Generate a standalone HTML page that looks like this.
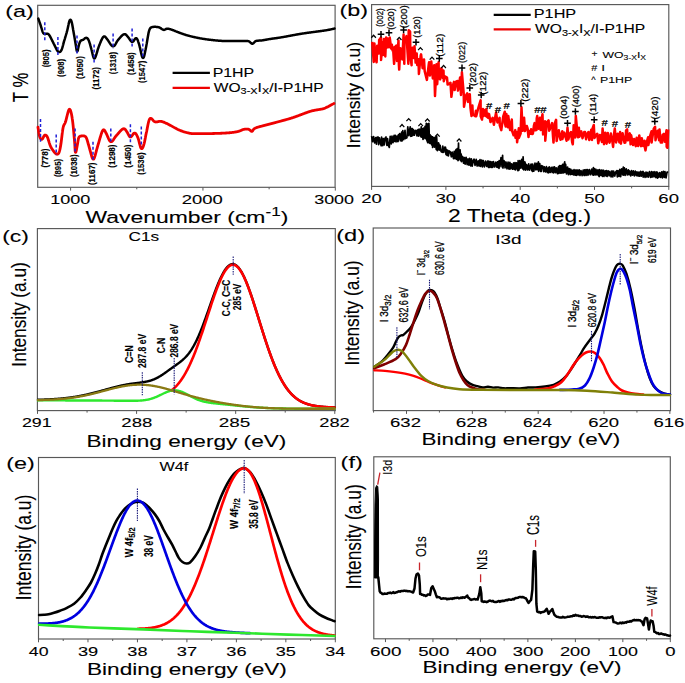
<!DOCTYPE html>
<html><head><meta charset="utf-8"><style>
html,body{margin:0;padding:0;background:#fff;}
svg{display:block;font-family:"Liberation Sans",sans-serif;}
</style></head><body>
<svg width="685" height="683" viewBox="0 0 685 683">
<rect width="685" height="683" fill="#fff"/>
<rect x="37.70" y="5.30" width="297.40" height="182.00" fill="none" stroke="#585858" stroke-width="1.15"/>
<line x1="70.60" y1="187.30" x2="70.60" y2="190.60" stroke="#585858" stroke-width="1.00"/>
<line x1="202.95" y1="187.30" x2="202.95" y2="190.60" stroke="#585858" stroke-width="1.00"/>
<line x1="335.30" y1="187.30" x2="335.30" y2="190.60" stroke="#585858" stroke-width="1.00"/>
<line x1="136.77" y1="187.30" x2="136.77" y2="189.30" stroke="#585858" stroke-width="1.00"/>
<line x1="269.12" y1="187.30" x2="269.12" y2="189.30" stroke="#585858" stroke-width="1.00"/>
<g transform="translate(50.25 204.10) scale(1.3683 1.0000)" font-weight="normal" fill="#000" stroke="#000" stroke-width="0.101"><text xml:space="preserve" x="0.00" y="0.00" font-size="13.20">1000</text></g>
<g transform="translate(181.68 204.10) scale(1.3983 1.0000)" font-weight="normal" fill="#000" stroke="#000" stroke-width="0.100"><text xml:space="preserve" x="0.00" y="0.00" font-size="13.20">2000</text></g>
<g transform="translate(314.18 204.10) scale(1.3566 1.0000)" font-weight="normal" fill="#000" stroke="#000" stroke-width="0.102"><text xml:space="preserve" x="0.00" y="0.00" font-size="13.20">3000</text></g>
<g transform="translate(85.49 223.40) scale(1.3486 1.0000)" font-weight="normal" fill="#000" stroke="#000" stroke-width="0.102"><text xml:space="preserve" x="0.00" y="0.00" font-size="17.00">Wavenumber (cm</text><text xml:space="preserve" x="133.51" y="-7.14" font-size="12.75">-1</text><text xml:space="preserve" x="144.85" y="0.00" font-size="17.00">)</text></g>
<g transform="translate(28.00 102.14) rotate(-90) scale(0.7357 1.0000)" font-weight="normal" fill="#000" stroke="#000" stroke-width="0.138"><text xml:space="preserve" x="0.00" y="0.00" font-size="22.80">T %</text></g>
<g transform="translate(5.30 17.00) scale(1.4246 1.0000)" font-weight="normal" fill="#000" stroke="#000" stroke-width="0.099"><text xml:space="preserve" x="0.00" y="0.00" font-size="16.40">(a)</text></g>
<path d="M38.32 18.64 L38.42 18.92 L38.55 19.30 L38.70 19.73 L38.86 20.19 L39.03 20.66 L39.19 21.13 L39.36 21.60 L39.52 22.07 L39.69 22.55 L39.85 23.02 L40.01 23.49 L40.18 23.96 L40.34 24.44 L40.50 24.91 L40.66 25.39 L40.81 25.86 L40.96 26.34 L41.11 26.81 L41.26 27.29 L41.40 27.77 L41.54 28.25 L41.68 28.73 L41.82 29.21 L41.96 29.69 L42.10 30.17 L42.24 30.65 L42.40 31.13 L42.56 31.60 L42.74 32.06 L42.94 32.51 L43.18 32.94 L43.46 33.31 L43.81 33.61 L44.21 33.82 L44.65 33.94 L45.12 33.96 L45.60 33.91 L46.08 33.83 L46.56 33.74 L47.03 33.70 L47.50 33.74 L47.94 33.87 L48.34 34.10 L48.70 34.41 L49.02 34.77 L49.30 35.17 L49.57 35.59 L49.83 36.02 L50.08 36.46 L50.32 36.89 L50.55 37.33 L50.79 37.78 L51.02 38.22 L51.24 38.67 L51.47 39.11 L51.69 39.56 L51.91 40.01 L52.13 40.46 L52.35 40.91 L52.57 41.36 L52.79 41.80 L53.01 42.25 L53.24 42.70 L53.46 43.15 L53.68 43.60 L53.91 44.04 L54.14 44.49 L54.36 44.93 L54.59 45.38 L54.81 45.82 L55.04 46.27 L55.26 46.72 L55.47 47.17 L55.69 47.62 L55.91 48.07 L56.13 48.52 L56.35 48.97 L56.58 49.41 L56.81 49.85 L57.06 50.29 L57.32 50.71 L57.61 51.11 L57.93 51.47 L58.29 51.78 L58.68 51.99 L59.11 52.09 L59.54 52.06 L59.95 51.90 L60.33 51.64 L60.66 51.30 L60.96 50.91 L61.23 50.50 L61.46 50.06 L61.68 49.61 L61.86 49.15 L62.03 48.68 L62.19 48.21 L62.34 47.73 L62.48 47.25 L62.61 46.77 L62.74 46.28 L62.86 45.80 L62.99 45.32 L63.11 44.83 L63.24 44.35 L63.36 43.86 L63.49 43.38 L63.62 42.90 L63.75 42.41 L63.88 41.93 L64.02 41.45 L64.16 40.97 L64.30 40.49 L64.45 40.01 L64.59 39.53 L64.74 39.06 L64.88 38.58 L65.03 38.10 L65.17 37.62 L65.32 37.14 L65.46 36.66 L65.61 36.19 L65.75 35.71 L65.89 35.23 L66.04 34.75 L66.18 34.27 L66.32 33.79 L66.46 33.31 L66.59 32.83 L66.73 32.35 L66.86 31.86 L66.99 31.38 L67.12 30.90 L67.24 30.41 L67.36 29.93 L67.48 29.44 L67.59 28.95 L67.70 28.47 L67.81 27.98 L67.91 27.49 L68.02 27.00 L68.12 26.51 L68.23 26.02 L68.33 25.53 L68.43 25.04 L68.54 24.56 L68.64 24.07 L68.75 23.58 L68.86 23.09 L68.98 22.60 L69.10 22.12 L69.23 21.64 L69.37 21.16 L69.54 20.70 L69.74 20.29 L69.97 19.96 L70.25 19.78 L70.53 19.78 L70.80 19.97 L71.03 20.30 L71.23 20.72 L71.40 21.18 L71.55 21.65 L71.68 22.13 L71.81 22.62 L71.92 23.10 L72.03 23.59 L72.13 24.08 L72.23 24.57 L72.33 25.06 L72.42 25.55 L72.51 26.05 L72.60 26.54 L72.69 27.03 L72.78 27.52 L72.86 28.01 L72.95 28.51 L73.03 29.00 L73.12 29.49 L73.20 29.99 L73.29 30.48 L73.38 30.97 L73.46 31.46 L73.55 31.96 L73.64 32.45 L73.73 32.94 L73.81 33.43 L73.90 33.92 L73.99 34.42 L74.07 34.91 L74.16 35.40 L74.24 35.89 L74.33 36.39 L74.41 36.88 L74.50 37.37 L74.58 37.87 L74.66 38.36 L74.75 38.85 L74.83 39.35 L74.91 39.84 L74.99 40.33 L75.08 40.82 L75.16 41.32 L75.24 41.81 L75.33 42.30 L75.41 42.80 L75.50 43.29 L75.58 43.78 L75.67 44.27 L75.76 44.77 L75.84 45.26 L75.92 45.75 L76.00 46.25 L76.08 46.74 L76.16 47.23 L76.23 47.73 L76.31 48.22 L76.38 48.72 L76.46 49.21 L76.54 49.70 L76.63 50.19 L76.74 50.65 L76.87 51.04 L77.04 51.30 L77.22 51.38 L77.41 51.25 L77.57 50.95 L77.72 50.54 L77.84 50.08 L77.94 49.59 L78.04 49.10 L78.14 48.61 L78.23 48.12 L78.32 47.63 L78.42 47.14 L78.52 46.65 L78.63 46.16 L78.74 45.68 L78.87 45.19 L79.00 44.71 L79.15 44.23 L79.30 43.75 L79.45 43.28 L79.62 42.81 L79.80 42.35 L80.01 41.89 L80.24 41.46 L80.51 41.06 L80.83 40.71 L81.21 40.44 L81.63 40.23 L82.08 40.08 L82.54 39.94 L83.00 39.77 L83.42 39.55 L83.81 39.27 L84.19 38.95 L84.55 38.61 L84.92 38.30 L85.31 38.05 L85.73 37.88 L86.17 37.84 L86.60 37.91 L87.02 38.10 L87.40 38.37 L87.74 38.71 L88.03 39.10 L88.30 39.52 L88.53 39.96 L88.73 40.41 L88.92 40.87 L89.10 41.34 L89.26 41.81 L89.42 42.29 L89.57 42.76 L89.71 43.24 L89.86 43.72 L90.00 44.20 L90.13 44.68 L90.27 45.16 L90.40 45.65 L90.54 46.13 L90.67 46.61 L90.80 47.09 L90.94 47.57 L91.07 48.05 L91.21 48.54 L91.34 49.02 L91.47 49.50 L91.59 49.99 L91.72 50.47 L91.84 50.95 L91.96 51.44 L92.07 51.93 L92.19 52.41 L92.31 52.90 L92.42 53.39 L92.54 53.87 L92.66 54.36 L92.78 54.84 L92.90 55.33 L93.03 55.81 L93.17 56.29 L93.31 56.77 L93.47 57.24 L93.66 57.68 L93.87 58.06 L94.12 58.34 L94.39 58.44 L94.66 58.36 L94.92 58.10 L95.14 57.73 L95.35 57.30 L95.54 56.85 L95.72 56.38 L95.89 55.91 L96.05 55.43 L96.20 54.96 L96.35 54.48 L96.49 54.00 L96.63 53.52 L96.77 53.04 L96.91 52.56 L97.05 52.08 L97.19 51.60 L97.33 51.12 L97.47 50.64 L97.62 50.16 L97.76 49.69 L97.91 49.21 L98.06 48.73 L98.21 48.26 L98.37 47.78 L98.53 47.31 L98.70 46.84 L98.87 46.37 L99.05 45.90 L99.23 45.43 L99.41 44.97 L99.59 44.50 L99.78 44.04 L99.96 43.57 L100.15 43.11 L100.34 42.65 L100.53 42.18 L100.72 41.72 L100.92 41.26 L101.11 40.80 L101.32 40.35 L101.53 39.89 L101.74 39.44 L101.96 38.99 L102.19 38.55 L102.43 38.11 L102.69 37.69 L102.97 37.28 L103.28 36.92 L103.62 36.63 L104.00 36.45 L104.40 36.41 L104.79 36.52 L105.15 36.76 L105.49 37.09 L105.80 37.46 L106.10 37.86 L106.41 38.25 L106.71 38.65 L107.02 39.04 L107.33 39.43 L107.63 39.83 L107.92 40.24 L108.20 40.65 L108.48 41.07 L108.75 41.49 L109.02 41.91 L109.29 42.33 L109.56 42.75 L109.83 43.17 L110.11 43.58 L110.39 43.99 L110.69 44.40 L110.99 44.80 L111.31 45.18 L111.65 45.54 L112.01 45.86 L112.40 46.11 L112.82 46.28 L113.25 46.32 L113.67 46.23 L114.06 46.02 L114.42 45.72 L114.74 45.36 L115.03 44.96 L115.29 44.54 L115.55 44.11 L115.79 43.67 L116.02 43.23 L116.26 42.79 L116.50 42.36 L116.74 41.92 L117.00 41.49 L117.26 41.07 L117.54 40.65 L117.84 40.25 L118.15 39.86 L118.47 39.47 L118.79 39.09 L119.11 38.71 L119.44 38.34 L119.77 37.96 L120.10 37.58 L120.43 37.21 L120.77 36.84 L121.11 36.48 L121.46 36.12 L121.82 35.77 L122.18 35.43 L122.56 35.10 L122.95 34.80 L123.36 34.53 L123.79 34.32 L124.24 34.18 L124.69 34.15 L125.13 34.22 L125.56 34.40 L125.95 34.67 L126.30 35.00 L126.64 35.36 L126.96 35.74 L127.27 36.13 L127.59 36.51 L127.91 36.90 L128.22 37.29 L128.53 37.68 L128.83 38.08 L129.11 38.49 L129.39 38.90 L129.67 39.32 L129.95 39.74 L130.23 40.15 L130.52 40.55 L130.83 40.94 L131.16 41.29 L131.52 41.59 L131.91 41.79 L132.31 41.86 L132.70 41.78 L133.07 41.56 L133.40 41.24 L133.70 40.87 L133.97 40.45 L134.23 40.03 L134.49 39.60 L134.75 39.19 L135.04 38.80 L135.35 38.47 L135.70 38.26 L136.06 38.19 L136.42 38.29 L136.75 38.53 L137.04 38.88 L137.29 39.29 L137.51 39.73 L137.71 40.19 L137.88 40.66 L138.05 41.13 L138.22 41.60 L138.37 42.08 L138.53 42.55 L138.68 43.03 L138.83 43.50 L138.98 43.98 L139.12 44.46 L139.26 44.94 L139.39 45.42 L139.52 45.91 L139.64 46.39 L139.75 46.88 L139.87 47.36 L139.98 47.85 L140.09 48.34 L140.20 48.83 L140.31 49.32 L140.42 49.80 L140.52 50.29 L140.63 50.78 L140.74 51.27 L140.85 51.76 L140.96 52.24 L141.07 52.73 L141.18 53.22 L141.30 53.71 L141.41 54.19 L141.53 54.68 L141.66 55.16 L141.79 55.64 L141.93 56.12 L142.08 56.59 L142.25 57.05 L142.46 57.45 L142.70 57.75 L142.98 57.90 L143.26 57.85 L143.52 57.63 L143.74 57.28 L143.93 56.85 L144.08 56.39 L144.21 55.91 L144.34 55.42 L144.45 54.94 L144.56 54.45 L144.67 53.96 L144.77 53.47 L144.87 52.98 L144.97 52.49 L145.07 52.00 L145.17 51.51 L145.28 51.02 L145.38 50.53 L145.49 50.04 L145.60 49.56 L145.70 49.07 L145.80 48.58 L145.90 48.09 L146.00 47.60 L146.09 47.11 L146.18 46.61 L146.27 46.12 L146.36 45.63 L146.45 45.14 L146.53 44.65 L146.62 44.15 L146.70 43.66 L146.79 43.17 L146.87 42.67 L146.95 42.18 L147.03 41.69 L147.11 41.19 L147.20 40.70 L147.28 40.21 L147.36 39.71 L147.44 39.22 L147.52 38.73 L147.61 38.23 L147.69 37.74 L147.78 37.25 L147.86 36.76 L147.95 36.26 L148.04 35.77 L148.13 35.28 L148.22 34.79 L148.31 34.30 L148.40 33.81 L148.49 33.31 L148.59 32.82 L148.69 32.33 L148.81 31.85 L148.94 31.37 L149.08 30.89 L149.24 30.41 L149.40 29.94 L149.57 29.48 L149.77 29.02 L149.99 28.59 L150.26 28.19 L150.59 27.84 L150.97 27.55 L151.39 27.32 L151.85 27.16 L152.33 27.04 L152.82 26.95 L153.31 26.90 L153.81 26.86 L154.31 26.84 L154.81 26.83 L155.31 26.84 L155.80 26.86 L156.30 26.89 L156.80 26.93 L157.30 26.99 L157.79 27.06 L158.28 27.16 L158.76 27.28 L159.23 27.44 L159.68 27.63 L160.13 27.85 L160.56 28.10 L160.98 28.37 L161.39 28.66 L161.80 28.94 L162.21 29.22 L162.63 29.48 L163.06 29.69 L163.51 29.84 L163.96 29.89 L164.41 29.84 L164.84 29.68 L165.26 29.45 L165.67 29.20 L166.09 28.97 L166.54 28.79 L167.00 28.68 L167.49 28.65 L167.97 28.67 L168.46 28.74 L168.95 28.85 L169.43 28.98 L169.91 29.12 L170.38 29.27 L170.86 29.43 L171.33 29.59 L171.80 29.75 L172.27 29.92 L172.74 30.10 L173.21 30.27 L173.68 30.45 L174.14 30.63 L174.61 30.82 L175.07 31.00 L175.54 31.18 L176.00 31.37 L176.47 31.55 L176.93 31.73 L177.40 31.92 L177.86 32.10 L178.33 32.28 L178.80 32.46 L179.26 32.64 L179.73 32.82 L180.20 33.00 L180.66 33.17 L181.13 33.35 L181.60 33.52 L182.07 33.69 L182.54 33.86 L183.02 34.02 L183.49 34.18 L183.96 34.34 L184.44 34.50 L184.91 34.65 L185.39 34.80 L185.87 34.94 L186.35 35.09 L186.83 35.22 L187.31 35.36 L187.79 35.50 L188.27 35.63 L188.76 35.76 L189.24 35.89 L189.72 36.02 L190.21 36.14 L190.69 36.27 L191.18 36.39 L191.66 36.51 L192.15 36.63 L192.63 36.74 L193.12 36.86 L193.61 36.97 L194.10 37.08 L194.58 37.19 L195.07 37.30 L195.56 37.40 L196.05 37.51 L196.54 37.61 L197.03 37.71 L197.52 37.81 L198.01 37.90 L198.50 38.00 L198.99 38.09 L199.48 38.18 L199.97 38.28 L200.47 38.36 L200.96 38.45 L201.45 38.54 L201.94 38.62 L202.44 38.70 L202.93 38.78 L203.42 38.86 L203.92 38.94 L204.41 39.02 L204.91 39.09 L205.40 39.16 L205.90 39.24 L206.39 39.31 L206.89 39.37 L207.38 39.44 L207.88 39.51 L208.37 39.57 L208.87 39.64 L209.37 39.70 L209.86 39.76 L210.36 39.82 L210.85 39.88 L211.35 39.94 L211.85 40.00 L212.34 40.05 L212.84 40.11 L213.34 40.16 L213.84 40.22 L214.33 40.27 L214.83 40.32 L215.33 40.37 L215.83 40.42 L216.32 40.46 L216.82 40.51 L217.32 40.55 L217.82 40.60 L218.32 40.64 L218.81 40.68 L219.31 40.72 L219.81 40.75 L220.31 40.79 L220.81 40.82 L221.31 40.85 L221.81 40.88 L222.31 40.91 L222.81 40.93 L223.31 40.95 L223.81 40.97 L224.30 40.98 L224.80 41.00 L225.30 41.01 L225.80 41.02 L226.30 41.02 L226.80 41.03 L227.30 41.03 L227.80 41.03 L228.30 41.04 L228.80 41.03 L229.30 41.03 L229.80 41.03 L230.30 41.03 L230.80 41.02 L231.30 41.02 L231.80 41.02 L232.30 41.01 L232.80 41.01 L233.30 41.01 L233.80 41.00 L234.30 41.00 L234.80 41.00 L235.30 41.00 L235.80 41.00 L236.30 41.00 L236.80 41.00 L237.30 41.00 L237.80 41.00 L238.30 41.00 L238.80 41.00 L239.30 41.00 L239.80 41.00 L240.30 40.99 L240.80 40.99 L241.30 40.99 L241.80 40.98 L242.30 40.98 L242.80 40.97 L243.30 40.97 L243.80 40.97 L244.30 40.97 L244.80 40.97 L245.30 40.97 L245.80 40.97 L246.30 40.98 L246.80 40.99 L247.30 41.01 L247.79 41.05 L248.27 41.13 L248.72 41.26 L249.15 41.46 L249.55 41.72 L249.92 42.04 L250.27 42.38 L250.62 42.73 L250.98 43.07 L251.35 43.37 L251.74 43.58 L252.15 43.68 L252.57 43.65 L252.97 43.48 L253.36 43.22 L253.71 42.89 L254.05 42.54 L254.39 42.17 L254.74 41.82 L255.11 41.50 L255.51 41.23 L255.95 41.02 L256.41 40.86 L256.88 40.76 L257.38 40.70 L257.87 40.65 L258.37 40.63 L258.87 40.61 L259.37 40.59 L259.87 40.56 L260.37 40.54 L260.87 40.50 L261.36 40.46 L261.86 40.40 L262.36 40.34 L262.85 40.27 L263.34 40.19 L263.84 40.10 L264.33 40.02 L264.82 39.93 L265.31 39.84 L265.80 39.75 L266.30 39.65 L266.79 39.56 L267.28 39.47 L267.77 39.38 L268.26 39.29 L268.76 39.21 L269.25 39.13 L269.74 39.05 L270.24 38.97 L270.73 38.89 L271.23 38.82 L271.72 38.75 L272.22 38.68 L272.71 38.61 L273.21 38.54 L273.70 38.48 L274.20 38.41 L274.69 38.34 L275.19 38.28 L275.68 38.21 L276.18 38.14 L276.67 38.07 L277.17 38.00 L277.66 37.93 L278.16 37.86 L278.65 37.78 L279.15 37.71 L279.64 37.63 L280.14 37.55 L280.63 37.47 L281.12 37.39 L281.62 37.31 L282.11 37.23 L282.60 37.14 L283.09 37.06 L283.59 36.97 L284.08 36.88 L284.57 36.79 L285.06 36.70 L285.55 36.61 L286.05 36.52 L286.54 36.43 L287.03 36.34 L287.52 36.25 L288.01 36.15 L288.50 36.06 L288.99 35.97 L289.49 35.88 L289.98 35.78 L290.47 35.69 L290.96 35.60 L291.45 35.50 L291.94 35.41 L292.43 35.32 L292.93 35.23 L293.42 35.14 L293.91 35.05 L294.40 34.95 L294.89 34.86 L295.38 34.77 L295.88 34.68 L296.37 34.60 L296.86 34.51 L297.35 34.42 L297.84 34.33 L298.34 34.25 L298.83 34.16 L299.32 34.08 L299.82 33.99 L300.31 33.91 L300.80 33.83 L301.30 33.75 L301.79 33.67 L302.28 33.59 L302.78 33.51 L303.27 33.44 L303.77 33.36 L304.26 33.29 L304.75 33.21 L305.25 33.14 L305.74 33.07 L306.24 33.00 L306.73 32.93 L307.23 32.86 L307.72 32.79 L308.22 32.72 L308.72 32.66 L309.21 32.59 L309.71 32.52 L310.20 32.46 L310.70 32.39 L311.19 32.32 L311.69 32.26 L312.18 32.19 L312.68 32.13 L313.18 32.06 L313.67 32.00 L314.17 31.93 L314.66 31.87 L315.16 31.81 L315.66 31.74 L316.15 31.68 L316.65 31.61 L317.14 31.55 L317.64 31.48 L318.13 31.42 L318.63 31.35 L319.13 31.28 L319.62 31.22 L320.12 31.15 L320.61 31.09 L321.11 31.02 L321.60 30.95 L322.10 30.88 L322.59 30.81 L323.09 30.74 L323.58 30.67 L324.08 30.59 L324.57 30.52 L325.07 30.44 L325.56 30.36 L326.05 30.28 L326.55 30.19 L327.04 30.11 L327.53 30.02 L328.02 29.93 L328.51 29.84 L329.00 29.75 L329.50 29.65 L329.99 29.55 L330.48 29.46 L330.97 29.35 L331.45 29.25 L331.94 29.14 L332.43 29.04 L332.92 28.93 L333.39 28.83 L333.84 28.73 L334.23 28.64 L334.53 28.58" fill="none" stroke="#000" stroke-width="2.50" stroke-linejoin="round" stroke-linecap="round"/>
<path d="M37.95 127.05 L38.00 127.35 L38.06 127.75 L38.13 128.20 L38.20 128.68 L38.27 129.17 L38.35 129.67 L38.42 130.16 L38.50 130.65 L38.58 131.15 L38.65 131.64 L38.73 132.14 L38.82 132.63 L38.90 133.12 L38.99 133.61 L39.08 134.11 L39.18 134.59 L39.29 135.08 L39.41 135.57 L39.54 136.05 L39.69 136.53 L39.85 137.00 L40.04 137.46 L40.24 137.91 L40.47 138.35 L40.74 138.75 L41.04 139.08 L41.37 139.30 L41.72 139.36 L42.06 139.25 L42.38 138.99 L42.65 138.63 L42.89 138.21 L43.10 137.77 L43.31 137.32 L43.53 136.86 L43.75 136.42 L44.00 136.00 L44.29 135.62 L44.61 135.31 L44.98 135.12 L45.38 135.06 L45.78 135.16 L46.15 135.38 L46.49 135.70 L46.79 136.08 L47.05 136.49 L47.28 136.93 L47.49 137.39 L47.67 137.85 L47.85 138.32 L48.01 138.79 L48.17 139.26 L48.32 139.74 L48.47 140.22 L48.62 140.69 L48.77 141.17 L48.92 141.65 L49.07 142.13 L49.22 142.60 L49.37 143.08 L49.53 143.55 L49.69 144.03 L49.86 144.50 L50.03 144.97 L50.21 145.43 L50.40 145.89 L50.61 146.35 L50.82 146.80 L51.05 147.25 L51.28 147.69 L51.53 148.12 L51.79 148.55 L52.05 148.97 L52.33 149.39 L52.61 149.80 L52.90 150.21 L53.19 150.62 L53.48 151.02 L53.78 151.42 L54.08 151.82 L54.39 152.22 L54.70 152.60 L55.03 152.98 L55.38 153.33 L55.74 153.66 L56.14 153.93 L56.56 154.13 L56.99 154.23 L57.43 154.20 L57.83 154.05 L58.19 153.78 L58.50 153.43 L58.76 153.02 L58.98 152.58 L59.17 152.13 L59.34 151.66 L59.49 151.18 L59.63 150.70 L59.75 150.22 L59.87 149.73 L59.98 149.24 L60.08 148.75 L60.18 148.26 L60.27 147.77 L60.37 147.28 L60.46 146.79 L60.54 146.30 L60.63 145.80 L60.71 145.31 L60.79 144.82 L60.87 144.32 L60.94 143.83 L61.02 143.34 L61.09 142.84 L61.15 142.34 L61.22 141.85 L61.28 141.35 L61.34 140.86 L61.41 140.36 L61.47 139.86 L61.53 139.37 L61.59 138.87 L61.64 138.38 L61.70 137.88 L61.76 137.38 L61.82 136.89 L61.88 136.39 L61.94 135.89 L62.00 135.40 L62.06 134.90 L62.12 134.40 L62.18 133.91 L62.24 133.41 L62.30 132.91 L62.37 132.42 L62.43 131.92 L62.50 131.43 L62.56 130.93 L62.63 130.44 L62.71 129.94 L62.78 129.45 L62.86 128.96 L62.95 128.46 L63.04 127.97 L63.15 127.48 L63.26 127.00 L63.39 126.51 L63.54 126.04 L63.71 125.57 L63.91 125.12 L64.14 124.68 L64.38 124.24 L64.62 123.81 L64.86 123.37 L65.07 122.92 L65.27 122.46 L65.44 121.99 L65.60 121.52 L65.74 121.04 L65.88 120.56 L66.01 120.08 L66.14 119.59 L66.27 119.11 L66.39 118.63 L66.51 118.14 L66.63 117.66 L66.75 117.17 L66.87 116.69 L66.99 116.20 L67.11 115.71 L67.23 115.23 L67.35 114.74 L67.47 114.26 L67.60 113.77 L67.72 113.29 L67.85 112.81 L67.98 112.32 L68.12 111.84 L68.26 111.36 L68.41 110.89 L68.58 110.43 L68.77 109.99 L69.00 109.61 L69.27 109.35 L69.55 109.25 L69.83 109.35 L70.08 109.61 L70.30 109.99 L70.48 110.43 L70.64 110.90 L70.78 111.38 L70.92 111.86 L71.05 112.34 L71.17 112.82 L71.29 113.31 L71.40 113.80 L71.50 114.29 L71.60 114.78 L71.70 115.27 L71.79 115.76 L71.87 116.25 L71.96 116.74 L72.04 117.24 L72.12 117.73 L72.19 118.23 L72.27 118.72 L72.34 119.21 L72.41 119.71 L72.48 120.21 L72.54 120.70 L72.61 121.20 L72.67 121.69 L72.73 122.19 L72.79 122.69 L72.85 123.18 L72.90 123.68 L72.96 124.18 L73.01 124.67 L73.07 125.17 L73.12 125.67 L73.17 126.16 L73.22 126.66 L73.27 127.16 L73.32 127.66 L73.37 128.16 L73.41 128.65 L73.46 129.15 L73.51 129.65 L73.55 130.15 L73.60 130.64 L73.65 131.14 L73.69 131.64 L73.74 132.14 L73.78 132.64 L73.83 133.13 L73.87 133.63 L73.91 134.13 L73.96 134.63 L74.00 135.13 L74.05 135.62 L74.09 136.12 L74.13 136.62 L74.18 137.12 L74.22 137.62 L74.27 138.11 L74.31 138.61 L74.35 139.11 L74.40 139.61 L74.44 140.11 L74.48 140.60 L74.53 141.10 L74.57 141.60 L74.61 142.10 L74.66 142.60 L74.69 143.10 L74.73 143.59 L74.77 144.09 L74.80 144.59 L74.83 145.09 L74.86 145.59 L74.89 146.09 L74.92 146.59 L74.94 147.09 L74.97 147.59 L75.00 148.09 L75.02 148.59 L75.05 149.09 L75.08 149.58 L75.11 150.08 L75.15 150.58 L75.19 151.07 L75.26 151.53 L75.35 151.93 L75.47 152.20 L75.62 152.28 L75.79 152.15 L75.94 151.84 L76.08 151.43 L76.20 150.97 L76.31 150.48 L76.41 150.00 L76.51 149.50 L76.60 149.01 L76.69 148.52 L76.79 148.03 L76.88 147.54 L76.97 147.05 L77.06 146.56 L77.15 146.06 L77.25 145.57 L77.34 145.08 L77.44 144.59 L77.53 144.10 L77.62 143.61 L77.70 143.12 L77.78 142.62 L77.85 142.13 L77.93 141.63 L78.00 141.14 L78.08 140.64 L78.16 140.15 L78.24 139.66 L78.34 139.17 L78.45 138.68 L78.57 138.20 L78.73 137.74 L78.94 137.30 L79.20 136.91 L79.53 136.58 L79.92 136.34 L80.36 136.18 L80.83 136.08 L81.32 136.01 L81.81 135.96 L82.30 135.91 L82.80 135.88 L83.29 135.87 L83.78 135.91 L84.26 136.00 L84.72 136.15 L85.14 136.37 L85.52 136.66 L85.84 137.01 L86.11 137.41 L86.34 137.84 L86.54 138.30 L86.72 138.76 L86.89 139.23 L87.05 139.71 L87.20 140.18 L87.34 140.66 L87.48 141.14 L87.62 141.62 L87.76 142.10 L87.89 142.58 L88.03 143.07 L88.16 143.55 L88.29 144.03 L88.43 144.51 L88.56 144.99 L88.69 145.47 L88.83 145.96 L88.97 146.44 L89.10 146.92 L89.24 147.40 L89.38 147.88 L89.52 148.36 L89.65 148.84 L89.79 149.32 L89.92 149.80 L90.05 150.29 L90.18 150.77 L90.31 151.25 L90.44 151.74 L90.57 152.22 L90.70 152.70 L90.83 153.18 L90.96 153.67 L91.10 154.15 L91.23 154.63 L91.37 155.11 L91.51 155.59 L91.65 156.07 L91.80 156.55 L91.95 157.02 L92.11 157.49 L92.29 157.96 L92.49 158.40 L92.72 158.79 L92.98 159.08 L93.26 159.21 L93.54 159.15 L93.79 158.91 L94.01 158.55 L94.21 158.12 L94.39 157.66 L94.56 157.19 L94.72 156.72 L94.88 156.25 L95.03 155.77 L95.17 155.29 L95.31 154.81 L95.45 154.33 L95.58 153.85 L95.71 153.37 L95.84 152.89 L95.97 152.40 L96.10 151.92 L96.23 151.43 L96.35 150.95 L96.48 150.47 L96.61 149.98 L96.74 149.50 L96.86 149.02 L96.99 148.53 L97.13 148.05 L97.26 147.57 L97.39 147.09 L97.53 146.61 L97.67 146.13 L97.81 145.65 L97.95 145.17 L98.09 144.69 L98.24 144.21 L98.38 143.73 L98.52 143.25 L98.66 142.77 L98.80 142.29 L98.94 141.81 L99.08 141.33 L99.21 140.85 L99.35 140.37 L99.49 139.89 L99.63 139.41 L99.77 138.93 L99.91 138.45 L100.05 137.97 L100.19 137.49 L100.34 137.01 L100.48 136.53 L100.63 136.05 L100.77 135.57 L100.92 135.10 L101.07 134.62 L101.23 134.15 L101.39 133.67 L101.55 133.20 L101.72 132.73 L101.89 132.26 L102.07 131.79 L102.27 131.34 L102.48 130.89 L102.73 130.48 L103.00 130.12 L103.32 129.87 L103.66 129.77 L104.00 129.84 L104.32 130.08 L104.60 130.42 L104.85 130.83 L105.08 131.26 L105.31 131.71 L105.54 132.15 L105.77 132.59 L106.01 133.03 L106.25 133.47 L106.47 133.92 L106.69 134.37 L106.90 134.82 L107.10 135.28 L107.30 135.74 L107.49 136.20 L107.69 136.66 L107.88 137.12 L108.07 137.58 L108.27 138.04 L108.47 138.50 L108.68 138.95 L108.89 139.40 L109.12 139.85 L109.36 140.28 L109.63 140.70 L109.92 141.08 L110.26 141.40 L110.63 141.63 L111.03 141.73 L111.45 141.68 L111.85 141.51 L112.22 141.24 L112.56 140.89 L112.87 140.51 L113.16 140.11 L113.44 139.70 L113.71 139.28 L113.98 138.86 L114.25 138.43 L114.52 138.01 L114.80 137.60 L115.08 137.19 L115.38 136.79 L115.69 136.40 L116.01 136.01 L116.34 135.63 L116.66 135.26 L116.99 134.88 L117.32 134.50 L117.65 134.13 L117.97 133.75 L118.30 133.37 L118.63 132.99 L118.96 132.61 L119.29 132.24 L119.62 131.86 L119.95 131.49 L120.29 131.13 L120.64 130.77 L120.99 130.41 L121.35 130.07 L121.72 129.73 L122.11 129.42 L122.51 129.15 L122.94 128.92 L123.38 128.77 L123.82 128.73 L124.26 128.80 L124.67 128.99 L125.04 129.27 L125.38 129.61 L125.68 130.00 L125.96 130.41 L126.23 130.83 L126.50 131.25 L126.77 131.67 L127.04 132.09 L127.31 132.51 L127.56 132.94 L127.80 133.38 L128.03 133.82 L128.25 134.27 L128.47 134.72 L128.70 135.16 L128.93 135.60 L129.19 136.02 L129.48 136.40 L129.80 136.70 L130.17 136.89 L130.55 136.93 L130.93 136.81 L131.29 136.57 L131.62 136.23 L131.92 135.85 L132.21 135.44 L132.48 135.03 L132.76 134.61 L133.04 134.20 L133.34 133.81 L133.67 133.47 L134.03 133.20 L134.41 133.06 L134.82 133.05 L135.21 133.20 L135.57 133.46 L135.89 133.80 L136.18 134.19 L136.44 134.62 L136.68 135.05 L136.90 135.50 L137.12 135.95 L137.32 136.41 L137.52 136.87 L137.71 137.33 L137.90 137.79 L138.08 138.26 L138.24 138.73 L138.40 139.20 L138.55 139.68 L138.69 140.16 L138.82 140.64 L138.95 141.12 L139.08 141.61 L139.20 142.09 L139.32 142.58 L139.44 143.06 L139.56 143.55 L139.68 144.03 L139.81 144.52 L139.93 145.00 L140.06 145.49 L140.19 145.97 L140.33 146.45 L140.47 146.93 L140.64 147.39 L140.83 147.83 L141.06 148.22 L141.33 148.50 L141.64 148.63 L141.96 148.57 L142.26 148.35 L142.53 148.00 L142.75 147.59 L142.95 147.14 L143.13 146.67 L143.30 146.20 L143.45 145.73 L143.61 145.25 L143.76 144.77 L143.90 144.30 L144.04 143.82 L144.18 143.34 L144.30 142.85 L144.42 142.37 L144.54 141.88 L144.64 141.39 L144.74 140.90 L144.84 140.41 L144.94 139.92 L145.03 139.43 L145.12 138.94 L145.21 138.45 L145.31 137.96 L145.40 137.46 L145.49 136.97 L145.58 136.48 L145.68 135.99 L145.77 135.50 L145.87 135.01 L145.97 134.52 L146.08 134.03 L146.18 133.54 L146.29 133.05 L146.39 132.56 L146.50 132.08 L146.60 131.59 L146.70 131.10 L146.80 130.61 L146.89 130.11 L146.99 129.62 L147.08 129.13 L147.17 128.64 L147.27 128.15 L147.36 127.66 L147.46 127.17 L147.55 126.68 L147.65 126.19 L147.75 125.70 L147.84 125.21 L147.95 124.72 L148.05 124.23 L148.16 123.74 L148.26 123.25 L148.38 122.76 L148.50 122.28 L148.62 121.79 L148.75 121.31 L148.89 120.83 L149.05 120.36 L149.22 119.89 L149.42 119.44 L149.65 119.03 L149.94 118.68 L150.27 118.44 L150.65 118.34 L151.05 118.40 L151.44 118.58 L151.81 118.87 L152.15 119.21 L152.48 119.58 L152.80 119.96 L153.13 120.34 L153.46 120.71 L153.80 121.06 L154.18 121.38 L154.58 121.64 L155.02 121.83 L155.48 121.94 L155.96 121.98 L156.44 121.96 L156.93 121.89 L157.42 121.78 L157.90 121.67 L158.39 121.55 L158.88 121.45 L159.37 121.37 L159.86 121.33 L160.36 121.33 L160.85 121.36 L161.34 121.43 L161.82 121.54 L162.31 121.67 L162.78 121.81 L163.25 121.98 L163.72 122.15 L164.19 122.34 L164.65 122.53 L165.10 122.74 L165.56 122.94 L166.01 123.15 L166.46 123.37 L166.91 123.58 L167.37 123.80 L167.81 124.02 L168.26 124.24 L168.71 124.46 L169.15 124.69 L169.60 124.92 L170.04 125.16 L170.48 125.40 L170.91 125.64 L171.35 125.89 L171.79 126.13 L172.22 126.38 L172.65 126.63 L173.09 126.88 L173.52 127.12 L173.96 127.37 L174.39 127.61 L174.83 127.86 L175.27 128.10 L175.71 128.34 L176.15 128.57 L176.59 128.81 L177.04 129.03 L177.48 129.26 L177.94 129.47 L178.39 129.68 L178.84 129.89 L179.30 130.09 L179.76 130.28 L180.23 130.47 L180.69 130.66 L181.15 130.84 L181.62 131.02 L182.09 131.19 L182.56 131.36 L183.04 131.52 L183.51 131.68 L183.99 131.83 L184.47 131.97 L184.95 132.11 L185.43 132.25 L185.91 132.37 L186.39 132.50 L186.88 132.62 L187.36 132.74 L187.85 132.86 L188.34 132.97 L188.82 133.08 L189.31 133.19 L189.80 133.29 L190.29 133.37 L190.79 133.44 L191.29 133.50 L191.78 133.54 L192.28 133.58 L192.78 133.61 L193.28 133.63 L193.78 133.65 L194.28 133.66 L194.78 133.68 L195.28 133.69 L195.78 133.69 L196.28 133.70 L196.78 133.71 L197.28 133.71 L197.78 133.71 L198.28 133.71 L198.78 133.71 L199.28 133.71 L199.78 133.71 L200.28 133.71 L200.78 133.71 L201.28 133.70 L201.78 133.70 L202.28 133.69 L202.78 133.69 L203.28 133.68 L203.78 133.68 L204.28 133.67 L204.78 133.67 L205.28 133.66 L205.78 133.65 L206.28 133.64 L206.78 133.64 L207.28 133.63 L207.78 133.62 L208.28 133.61 L208.78 133.60 L209.28 133.59 L209.78 133.58 L210.28 133.57 L210.78 133.56 L211.28 133.55 L211.78 133.54 L212.28 133.53 L212.78 133.51 L213.28 133.50 L213.78 133.49 L214.28 133.48 L214.78 133.46 L215.28 133.45 L215.78 133.44 L216.28 133.42 L216.78 133.41 L217.28 133.39 L217.77 133.38 L218.27 133.36 L218.77 133.34 L219.27 133.33 L219.77 133.31 L220.27 133.29 L220.77 133.27 L221.27 133.25 L221.77 133.23 L222.27 133.21 L222.77 133.18 L223.27 133.16 L223.77 133.14 L224.27 133.11 L224.77 133.08 L225.27 133.05 L225.77 133.02 L226.27 132.99 L226.76 132.96 L227.26 132.92 L227.76 132.89 L228.26 132.85 L228.76 132.81 L229.26 132.77 L229.76 132.73 L230.25 132.68 L230.75 132.63 L231.25 132.58 L231.75 132.53 L232.24 132.47 L232.74 132.41 L233.23 132.35 L233.73 132.28 L234.23 132.21 L234.72 132.14 L235.21 132.06 L235.71 131.98 L236.20 131.90 L236.69 131.80 L237.18 131.70 L237.67 131.59 L238.15 131.47 L238.63 131.33 L239.10 131.17 L239.57 131.01 L240.04 130.83 L240.50 130.63 L240.96 130.44 L241.42 130.24 L241.88 130.04 L242.34 129.85 L242.80 129.67 L243.28 129.51 L243.76 129.38 L244.24 129.27 L244.73 129.18 L245.23 129.11 L245.72 129.06 L246.22 129.03 L246.72 129.03 L247.22 129.05 L247.71 129.09 L248.20 129.18 L248.67 129.31 L249.12 129.49 L249.54 129.73 L249.92 130.03 L250.28 130.36 L250.63 130.71 L250.98 131.03 L251.34 131.28 L251.71 131.41 L252.05 131.39 L252.36 131.19 L252.61 130.87 L252.84 130.47 L253.06 130.05 L253.32 129.64 L253.63 129.26 L253.98 128.92 L254.37 128.62 L254.79 128.37 L255.23 128.14 L255.68 127.94 L256.15 127.76 L256.62 127.59 L257.09 127.43 L257.57 127.28 L258.05 127.13 L258.52 126.99 L259.00 126.85 L259.49 126.71 L259.97 126.58 L260.45 126.45 L260.93 126.32 L261.42 126.20 L261.90 126.07 L262.39 125.95 L262.87 125.82 L263.36 125.70 L263.84 125.58 L264.33 125.45 L264.81 125.33 L265.29 125.21 L265.78 125.09 L266.26 124.97 L266.75 124.84 L267.23 124.72 L267.72 124.60 L268.20 124.47 L268.69 124.35 L269.17 124.22 L269.65 124.10 L270.14 123.97 L270.62 123.84 L271.10 123.71 L271.59 123.58 L272.07 123.44 L272.55 123.31 L273.03 123.18 L273.52 123.05 L274.00 122.92 L274.48 122.79 L274.96 122.66 L275.45 122.53 L275.93 122.40 L276.41 122.27 L276.90 122.14 L277.38 122.01 L277.86 121.89 L278.35 121.76 L278.83 121.63 L279.31 121.50 L279.79 121.37 L280.28 121.24 L280.76 121.11 L281.24 120.98 L281.73 120.85 L282.21 120.72 L282.69 120.59 L283.17 120.46 L283.66 120.33 L284.14 120.19 L284.62 120.06 L285.10 119.93 L285.58 119.79 L286.06 119.66 L286.55 119.52 L287.03 119.38 L287.51 119.25 L287.99 119.11 L288.47 118.97 L288.95 118.83 L289.43 118.68 L289.91 118.54 L290.38 118.40 L290.86 118.25 L291.34 118.10 L291.82 117.95 L292.29 117.80 L292.77 117.65 L293.24 117.49 L293.72 117.33 L294.19 117.17 L294.66 117.01 L295.14 116.84 L295.61 116.68 L296.08 116.51 L296.55 116.34 L297.02 116.17 L297.49 115.99 L297.96 115.82 L298.42 115.64 L298.89 115.47 L299.36 115.29 L299.83 115.11 L300.30 114.94 L300.76 114.76 L301.23 114.58 L301.70 114.40 L302.16 114.22 L302.63 114.05 L303.10 113.87 L303.57 113.69 L304.03 113.51 L304.50 113.34 L304.97 113.16 L305.44 112.99 L305.91 112.82 L306.38 112.65 L306.85 112.48 L307.32 112.31 L307.79 112.15 L308.27 111.99 L308.74 111.83 L309.22 111.68 L309.69 111.53 L310.17 111.38 L310.65 111.24 L311.13 111.10 L311.61 110.97 L312.10 110.85 L312.58 110.73 L313.07 110.62 L313.56 110.51 L314.05 110.40 L314.54 110.30 L315.03 110.20 L315.52 110.11 L316.01 110.02 L316.50 109.94 L317.00 109.86 L317.49 109.78 L317.98 109.70 L318.48 109.62 L318.97 109.54 L319.47 109.47 L319.96 109.39 L320.45 109.31 L320.95 109.22 L321.44 109.13 L321.93 109.03 L322.42 108.93 L322.90 108.81 L323.38 108.68 L323.86 108.54 L324.34 108.38 L324.80 108.21 L325.26 108.01 L325.71 107.79 L326.16 107.57 L326.60 107.35 L327.05 107.13 L327.50 106.90 L327.94 106.67 L328.39 106.45 L328.83 106.22 L329.28 105.98 L329.72 105.75 L330.16 105.52 L330.60 105.28 L331.04 105.05 L331.48 104.81 L331.93 104.58 L332.37 104.34 L332.80 104.11 L333.22 103.88 L333.60 103.68 L333.91 103.51" fill="none" stroke="#ee0000" stroke-width="2.80" stroke-linejoin="round" stroke-linecap="round"/>
<line x1="44.80" y1="22.30" x2="44.80" y2="41.10" stroke="#2020d8" stroke-width="1.50" stroke-dasharray="3 2"/>
<line x1="57.90" y1="37.10" x2="57.90" y2="56.40" stroke="#2020d8" stroke-width="1.50" stroke-dasharray="3 2"/>
<line x1="77.00" y1="35.40" x2="77.00" y2="53.80" stroke="#2020d8" stroke-width="1.50" stroke-dasharray="3 2"/>
<line x1="94.10" y1="44.40" x2="94.10" y2="63.40" stroke="#2020d8" stroke-width="1.50" stroke-dasharray="3 2"/>
<line x1="113.10" y1="33.50" x2="113.10" y2="48.80" stroke="#2020d8" stroke-width="1.50" stroke-dasharray="3 2"/>
<line x1="132.10" y1="28.40" x2="132.10" y2="48.10" stroke="#2020d8" stroke-width="1.50" stroke-dasharray="3 2"/>
<line x1="142.80" y1="38.60" x2="142.80" y2="58.30" stroke="#2020d8" stroke-width="1.50" stroke-dasharray="3 2"/>
<line x1="40.50" y1="119.10" x2="40.50" y2="141.70" stroke="#2020d8" stroke-width="1.50" stroke-dasharray="3 2"/>
<line x1="56.20" y1="134.40" x2="56.20" y2="154.90" stroke="#2020d8" stroke-width="1.50" stroke-dasharray="3 2"/>
<line x1="75.10" y1="128.60" x2="75.10" y2="153.40" stroke="#2020d8" stroke-width="1.50" stroke-dasharray="3 2"/>
<line x1="93.00" y1="141.70" x2="93.00" y2="160.00" stroke="#2020d8" stroke-width="1.50" stroke-dasharray="3 2"/>
<line x1="110.80" y1="128.60" x2="110.80" y2="143.20" stroke="#2020d8" stroke-width="1.50" stroke-dasharray="3 2"/>
<line x1="130.40" y1="124.20" x2="130.40" y2="143.20" stroke="#2020d8" stroke-width="1.50" stroke-dasharray="3 2"/>
<line x1="141.30" y1="126.40" x2="141.30" y2="146.80" stroke="#2020d8" stroke-width="1.50" stroke-dasharray="3 2"/>
<g transform="translate(48.84 67.28) rotate(-90) scale(0.7818 1.0000)" font-weight="bold" fill="#000" stroke="#000" stroke-width="0.150"><text xml:space="preserve" x="0.00" y="0.00" font-size="9.79">(805)</text></g>
<g transform="translate(63.85 76.88) rotate(-90) scale(0.8223 1.0000)" font-weight="bold" fill="#000" stroke="#000" stroke-width="0.150"><text xml:space="preserve" x="0.00" y="0.00" font-size="9.30">(908)</text></g>
<g transform="translate(82.63 79.10) rotate(-90) scale(0.8109 1.0000)" font-weight="bold" fill="#000" stroke="#000" stroke-width="0.150"><text xml:space="preserve" x="0.00" y="0.00" font-size="9.84">(1050)</text></g>
<g transform="translate(99.01 89.60) rotate(-90) scale(0.8897 1.0000)" font-weight="bold" fill="#000" stroke="#000" stroke-width="0.150"><text xml:space="preserve" x="0.00" y="0.00" font-size="8.98">(1172)</text></g>
<g transform="translate(116.02 74.18) rotate(-90) scale(0.8173 1.0000)" font-weight="bold" fill="#000" stroke="#000" stroke-width="0.150"><text xml:space="preserve" x="0.00" y="0.00" font-size="9.41">(1318)</text></g>
<g transform="translate(133.93 75.09) rotate(-90) scale(0.8000 1.0000)" font-weight="bold" fill="#000" stroke="#000" stroke-width="0.150"><text xml:space="preserve" x="0.00" y="0.00" font-size="9.84">(1458)</text></g>
<g transform="translate(145.41 82.98) rotate(-90) scale(0.7734 1.0000)" font-weight="bold" fill="#000" stroke="#000" stroke-width="0.150"><text xml:space="preserve" x="0.00" y="0.00" font-size="9.95">(1547)</text></g>
<g transform="translate(47.62 167.61) rotate(-90) scale(0.8652 1.0000)" font-weight="bold" fill="#000" stroke="#000" stroke-width="0.150"><text xml:space="preserve" x="0.00" y="0.00" font-size="9.41">(778)</text></g>
<g transform="translate(60.82 177.09) rotate(-90) scale(0.8319 1.0000)" font-weight="bold" fill="#000" stroke="#000" stroke-width="0.150"><text xml:space="preserve" x="0.00" y="0.00" font-size="9.41">(895)</text></g>
<g transform="translate(76.82 177.09) rotate(-90) scale(0.8325 1.0000)" font-weight="bold" fill="#000" stroke="#000" stroke-width="0.150"><text xml:space="preserve" x="0.00" y="0.00" font-size="9.41">(1038)</text></g>
<g transform="translate(95.12 185.10) rotate(-90) scale(0.8492 1.0000)" font-weight="bold" fill="#000" stroke="#000" stroke-width="0.150"><text xml:space="preserve" x="0.00" y="0.00" font-size="9.41">(1167)</text></g>
<g transform="translate(114.63 167.70) rotate(-90) scale(0.8145 1.0000)" font-weight="bold" fill="#000" stroke="#000" stroke-width="0.150"><text xml:space="preserve" x="0.00" y="0.00" font-size="9.84">(1298)</text></g>
<g transform="translate(130.91 167.70) rotate(-90) scale(0.8057 1.0000)" font-weight="bold" fill="#000" stroke="#000" stroke-width="0.150"><text xml:space="preserve" x="0.00" y="0.00" font-size="9.95">(1450)</text></g>
<g transform="translate(143.72 174.79) rotate(-90) scale(0.8211 1.0000)" font-weight="bold" fill="#000" stroke="#000" stroke-width="0.150"><text xml:space="preserve" x="0.00" y="0.00" font-size="9.41">(1536)</text></g>
<line x1="172.6" y1="72.9" x2="209.9" y2="72.9" stroke="#000" stroke-width="2.2"/>
<line x1="172.6" y1="87.8" x2="209.9" y2="87.8" stroke="#ee0000" stroke-width="2.2"/>
<g transform="translate(212.63 76.50) scale(1.3022 1.0000)" font-weight="normal" fill="#000" stroke="#000" stroke-width="0.104"><text xml:space="preserve" x="0.00" y="0.00" font-size="12.20">P1HP</text></g>
<g transform="translate(213.82 91.80) scale(1.2763 1.0000)" font-weight="normal" fill="#000" stroke="#000" stroke-width="0.105"><text xml:space="preserve" x="0.00" y="0.00" font-size="12.20">WO</text><text xml:space="preserve" x="21.00" y="2.68" font-size="8.54">3-X</text><text xml:space="preserve" x="34.29" y="0.00" font-size="12.20">I</text><text xml:space="preserve" x="37.68" y="2.68" font-size="8.54">X</text><text xml:space="preserve" x="43.38" y="0.00" font-size="12.20">/I-P1HP</text></g>
<rect x="371.60" y="4.60" width="297.20" height="181.80" fill="none" stroke="#585858" stroke-width="1.15"/>
<line x1="371.60" y1="186.40" x2="371.60" y2="189.90" stroke="#585858" stroke-width="1.00"/>
<line x1="445.90" y1="186.40" x2="445.90" y2="189.90" stroke="#585858" stroke-width="1.00"/>
<line x1="520.20" y1="186.40" x2="520.20" y2="189.90" stroke="#585858" stroke-width="1.00"/>
<line x1="594.50" y1="186.40" x2="594.50" y2="189.90" stroke="#585858" stroke-width="1.00"/>
<line x1="668.80" y1="186.40" x2="668.80" y2="189.90" stroke="#585858" stroke-width="1.00"/>
<line x1="408.75" y1="186.40" x2="408.75" y2="188.40" stroke="#585858" stroke-width="1.00"/>
<line x1="483.05" y1="186.40" x2="483.05" y2="188.40" stroke="#585858" stroke-width="1.00"/>
<line x1="557.35" y1="186.40" x2="557.35" y2="188.40" stroke="#585858" stroke-width="1.00"/>
<line x1="631.65" y1="186.40" x2="631.65" y2="188.40" stroke="#585858" stroke-width="1.00"/>
<g transform="translate(361.17 203.20) scale(1.4043 1.0000)" font-weight="normal" fill="#000" stroke="#000" stroke-width="0.100"><text xml:space="preserve" x="0.00" y="0.00" font-size="13.20">20</text></g>
<g transform="translate(435.67 203.20) scale(1.3907 1.0000)" font-weight="normal" fill="#000" stroke="#000" stroke-width="0.100"><text xml:space="preserve" x="0.00" y="0.00" font-size="13.20">30</text></g>
<g transform="translate(510.34 203.20) scale(1.3644 1.0000)" font-weight="normal" fill="#000" stroke="#000" stroke-width="0.102"><text xml:space="preserve" x="0.00" y="0.00" font-size="13.20">40</text></g>
<g transform="translate(584.27 203.20) scale(1.3907 1.0000)" font-weight="normal" fill="#000" stroke="#000" stroke-width="0.100"><text xml:space="preserve" x="0.00" y="0.00" font-size="13.20">50</text></g>
<g transform="translate(658.37 203.20) scale(1.4043 1.0000)" font-weight="normal" fill="#000" stroke="#000" stroke-width="0.100"><text xml:space="preserve" x="0.00" y="0.00" font-size="13.20">60</text></g>
<g transform="translate(448.06 221.70) scale(1.2692 1.0000)" font-weight="normal" fill="#000" stroke="#000" stroke-width="0.106"><text xml:space="preserve" x="0.00" y="0.00" font-size="18.00">2 Theta (deg.)</text></g>
<g transform="translate(359.60 148.18) rotate(-90) scale(0.9147 1.0000)" font-weight="normal" fill="#000" stroke="#000" stroke-width="0.125"><text xml:space="preserve" x="0.00" y="0.00" font-size="19.20">Intensity (a.u)</text></g>
<g transform="translate(339.40 15.80) scale(1.4787 1.0000)" font-weight="normal" fill="#000" stroke="#000" stroke-width="0.097"><text xml:space="preserve" x="0.00" y="0.00" font-size="15.80">(b)</text></g>
<path d="M372.20 41.90 L373.72 61.88 L374.40 43.40 L375.56 58.54 L376.60 62.30 L377.22 45.64 L378.80 53.60 L379.14 40.03 L381.00 37.50 L381.07 60.00 L382.40 42.87 L383.10 55.00 L383.90 39.00 L385.30 56.50 L386.10 37.50 L386.80 47.70 L387.38 38.56 L388.89 47.30 L389.70 37.50 L391.23 48.70 L391.90 44.80 L392.60 50.70 L393.00 47.17 L394.10 63.80 L395.16 46.74 L396.30 45.50 L397.00 60.90 L398.50 40.40 L398.89 65.01 L399.20 69.60 L400.31 48.32 L401.40 49.20 L402.25 59.52 L403.60 34.60 L404.30 63.80 L404.45 42.98 L406.50 36.10 L408.34 63.75 L408.70 30.20 L410.10 31.70 L410.32 55.78 L411.60 65.30 L411.65 48.83 L412.30 47.70 L413.80 58.00 L414.50 46.30 L415.63 62.56 L416.70 53.60 L417.21 65.03 L418.51 59.20 L418.90 74.00 L420.70 55.37 L421.10 54.30 L422.60 68.20 L424.00 59.40 L424.70 71.10 L426.90 79.90 L428.75 64.45 L429.10 62.30 L429.90 75.50 L431.30 61.60 L432.80 78.40 L434.20 65.30 L435.00 95.90 L436.56 64.18 L437.20 84.20 L438.60 62.30 L438.83 78.15 L440.10 79.30 L441.04 68.33 L441.50 68.20 L442.40 77.73 L443.50 70.50 L443.81 81.17 L445.30 76.46 L447.00 77.50 L447.61 84.57 L449.34 83.81 L450.50 82.80 L451.40 96.80 L452.86 85.33 L454.00 81.90 L454.67 90.09 L456.34 81.34 L457.50 81.00 L457.98 90.59 L460.10 77.50 L461.00 95.00 L461.90 72.30 L463.70 93.30 L464.00 106.83 L466.00 95.32 L467.20 93.30 L468.00 102.00 L468.26 94.83 L469.80 94.20 L470.45 107.67 L471.50 116.10 L472.40 105.50 L472.78 114.26 L475.00 116.10 L475.90 110.80 L476.20 116.21 L478.50 107.30 L480.60 100.30 L480.69 116.31 L482.00 119.60 L482.90 109.10 L482.93 116.43 L484.80 109.91 L485.50 116.10 L486.40 109.10 L486.83 116.52 L488.20 117.80 L488.32 113.65 L489.10 114.30 L490.48 122.09 L492.60 117.80 L493.92 124.69 L495.25 116.88 L496.10 112.60 L497.44 122.40 L499.60 117.80 L499.76 125.46 L501.30 130.10 L503.24 116.36 L504.80 111.70 L504.95 123.24 L505.70 126.60 L506.37 113.88 L507.95 127.35 L508.30 116.10 L510.10 130.10 L511.80 119.60 L512.24 131.33 L513.60 135.30 L515.30 130.10 L515.47 137.76 L516.78 132.21 L517.10 142.30 L518.80 128.30 L518.82 138.03 L520.60 133.60 L521.50 107.30 L522.65 130.81 L524.10 117.80 L524.96 131.06 L526.77 125.99 L527.60 128.30 L528.50 137.10 L529.11 131.01 L530.70 133.75 L531.10 129.20 L532.05 134.10 L532.90 133.60 L533.95 125.48 L534.60 123.10 L535.25 130.31 L536.40 130.10 L536.72 118.59 L537.20 116.10 L538.42 128.71 L539.90 117.80 L540.34 127.60 L540.70 130.10 L541.77 118.41 L542.50 114.30 L543.08 134.43 L545.10 121.30 L545.27 140.64 L546.87 122.48 L548.60 120.40 L549.17 130.64 L549.50 130.10 L551.40 124.80 L552.10 123.10 L553.06 137.17 L553.50 142.60 L554.82 123.28 L556.10 119.80 L556.64 141.06 L558.80 130.30 L560.50 139.67 L562.30 131.20 L562.37 139.07 L564.30 132.59 L566.57 140.69 L567.50 127.70 L568.38 139.49 L570.10 133.24 L571.00 132.00 L572.14 142.03 L572.80 144.30 L573.66 125.32 L575.24 137.55 L575.80 115.90 L577.56 134.67 L578.00 137.30 L578.90 127.70 L579.38 136.74 L581.24 131.34 L582.51 138.27 L584.22 132.11 L585.00 132.00 L586.10 139.27 L587.38 133.77 L588.50 132.00 L589.31 140.05 L591.25 129.85 L592.00 139.90 L592.58 128.37 L593.80 125.00 L594.51 137.98 L596.28 134.66 L597.30 133.80 L598.27 143.30 L599.91 134.96 L601.94 141.91 L602.60 128.50 L603.99 144.17 L605.28 132.71 L606.60 143.65 L607.80 132.90 L608.59 140.49 L609.60 142.60 L610.89 133.59 L612.42 141.79 L613.10 146.90 L614.18 133.08 L614.80 128.50 L616.08 142.50 L617.68 133.66 L619.34 142.37 L620.10 132.00 L620.93 143.65 L622.59 133.26 L624.50 142.84 L625.30 142.60 L626.08 130.34 L627.10 129.40 L627.75 140.34 L629.84 133.34 L630.60 144.30 L631.13 135.25 L633.00 144.91 L634.10 139.10 L635.06 143.89 L635.80 146.10 L636.65 137.80 L638.15 146.03 L639.30 135.50 L640.28 143.67 L641.10 146.10 L641.80 138.32 L643.26 146.00 L644.60 140.80 L644.99 147.98 L645.50 150.40 L647.01 141.14 L648.10 137.30 L648.38 145.07 L649.98 136.31 L651.60 131.20 L651.60 142.53 L653.76 128.66 L655.10 126.80 L655.50 140.25 L657.68 130.68 L659.12 140.29 L659.50 129.40 L660.75 142.53 L662.10 142.60 L662.71 134.99 L663.90 133.80 L664.93 141.74 L666.50 130.30 L666.67 146.78 L667.40 147.80 L668.20 129.40" fill="none" stroke="#ff0000" stroke-width="2.50" stroke-linejoin="round"/>
<path d="M371.60 136.20 L372.57 141.72 L373.60 136.64 L374.66 142.95 L375.80 137.52 L376.40 144.20 L376.82 137.60 L378.00 137.00 L378.60 144.69 L379.48 137.96 L380.62 144.21 L381.20 145.80 L381.60 137.12 L382.72 145.68 L383.41 138.51 L384.29 144.92 L385.05 138.27 L386.00 137.00 L386.92 145.47 L387.55 138.72 L388.30 145.07 L389.30 147.40 L390.21 136.27 L391.25 143.85 L391.97 136.21 L393.03 142.63 L393.73 136.90 L394.10 135.40 L394.70 141.45 L395.39 135.33 L396.03 141.79 L397.13 136.11 L397.87 141.63 L398.50 134.50 L398.62 140.80 L399.78 133.71 L400.88 140.94 L401.66 132.08 L402.10 141.00 L402.81 130.49 L403.73 139.71 L405.00 130.40 L405.47 138.62 L406.90 137.80 L407.80 126.90 L408.76 135.66 L409.88 128.64 L410.20 126.90 L410.67 136.32 L411.49 128.64 L411.80 136.20 L412.50 128.70 L412.92 135.45 L413.59 129.93 L414.38 135.23 L415.33 130.57 L416.00 130.40 L416.96 135.88 L417.77 129.81 L418.40 129.30 L418.57 136.17 L419.64 129.23 L420.53 136.23 L421.30 126.90 L421.33 137.27 L422.22 128.83 L423.00 139.40 L423.23 128.52 L423.60 128.10 L423.89 138.63 L425.05 126.35 L425.69 138.68 L426.30 123.40 L426.73 139.97 L427.80 142.60 L427.82 123.91 L428.45 142.32 L428.90 123.40 L429.51 143.21 L430.00 134.50 L430.34 143.62 L431.28 136.10 L431.92 145.23 L432.40 136.80 L432.60 147.40 L433.30 137.48 L434.20 137.80 L434.44 147.19 L435.18 137.37 L436.22 149.55 L436.60 136.20 L437.40 150.70 L438.49 142.90 L439.00 144.20 L439.30 150.10 L440.13 145.41 L441.04 151.46 L442.30 152.30 L442.78 146.10 L443.81 152.33 L444.87 147.16 L445.50 147.40 L445.97 154.54 L446.62 149.71 L447.10 155.50 L447.76 150.33 L448.44 155.90 L449.25 150.97 L450.30 151.80 L451.34 156.79 L452.15 152.21 L453.50 158.70 L454.20 151.36 L455.00 158.70 L455.80 150.11 L456.40 149.40 L456.53 159.31 L457.20 148.60 L458.00 160.70 L458.50 143.00 L458.91 159.97 L460.08 149.90 L460.80 160.72 L461.20 154.20 L461.45 161.66 L462.62 156.46 L463.54 163.26 L464.38 157.68 L465.14 164.09 L466.10 157.40 L467.17 164.70 L468.05 158.98 L468.90 165.18 L469.56 158.29 L470.69 165.94 L471.34 158.82 L472.23 166.10 L473.31 160.24 L474.10 159.10 L475.04 165.36 L476.18 159.31 L477.15 166.01 L478.21 160.81 L478.90 165.98 L480.00 159.70 L480.47 166.36 L481.56 160.11 L482.35 166.97 L483.22 160.47 L484.39 166.83 L485.48 161.16 L486.64 166.35 L487.51 161.18 L488.41 167.34 L488.80 161.20 L489.43 167.39 L490.32 161.53 L491.11 167.51 L491.96 161.76 L492.66 167.38 L493.50 161.62 L494.66 166.96 L495.81 162.24 L496.78 167.11 L497.50 161.90 L497.68 167.47 L498.49 161.67 L499.00 168.50 L499.17 160.57 L499.95 166.71 L501.00 157.64 L502.10 167.01 L502.60 155.30 L502.92 168.04 L503.98 160.70 L504.80 161.90 L505.03 167.89 L506.03 162.21 L507.02 168.77 L508.06 162.16 L508.89 168.86 L509.20 169.20 L509.90 162.36 L510.68 168.88 L511.57 163.77 L512.62 169.25 L513.62 162.97 L514.41 169.38 L515.00 162.60 L515.55 169.82 L516.53 162.82 L517.47 169.21 L518.00 170.70 L518.11 160.71 L519.03 170.04 L519.80 160.68 L520.79 168.08 L521.67 159.42 L522.74 168.93 L523.10 156.80 L523.80 169.90 L524.78 161.86 L525.30 163.40 L525.60 170.12 L526.58 164.62 L527.61 169.99 L528.68 163.87 L529.50 170.11 L530.59 165.43 L531.10 164.10 L531.69 170.48 L532.60 171.40 L532.69 164.17 L533.85 171.25 L534.99 163.05 L535.90 169.83 L536.82 163.26 L537.54 169.67 L538.40 161.90 L538.62 171.30 L539.76 163.65 L540.64 171.33 L541.30 171.40 L541.65 165.65 L542.80 166.30 L543.69 171.58 L544.41 166.87 L545.47 171.85 L546.41 166.61 L547.40 172.52 L548.26 167.85 L548.60 172.80 L549.22 166.96 L550.27 172.33 L551.24 167.38 L552.26 172.48 L553.00 167.00 L553.62 172.86 L554.49 166.96 L555.47 172.70 L556.22 167.88 L557.40 173.60 L558.19 167.63 L558.80 166.30 L558.85 173.48 L559.73 165.63 L560.48 173.05 L561.14 165.48 L561.84 173.05 L562.65 164.25 L563.37 172.98 L564.11 164.11 L564.70 161.90 L564.76 172.31 L565.64 164.24 L566.47 173.96 L567.60 167.00 L568.38 174.71 L569.14 168.57 L570.00 169.20 L570.26 174.76 L570.89 169.35 L571.74 174.28 L572.52 170.29 L573.37 174.90 L574.06 169.55 L575.14 175.26 L575.97 169.78 L576.62 175.32 L577.58 170.07 L578.27 174.82 L579.19 169.93 L580.00 175.51 L580.95 170.55 L582.09 175.63 L583.17 170.07 L584.02 175.44 L584.60 169.90 L585.09 175.37 L586.07 169.66 L586.90 175.36 L587.60 169.58 L588.56 174.92 L589.49 169.50 L590.64 174.71 L591.79 169.15 L592.75 174.93 L593.40 167.70 L593.57 175.25 L594.68 168.73 L595.31 174.98 L596.00 169.35 L596.94 174.89 L597.90 169.85 L598.60 175.41 L599.20 176.50 L599.57 169.51 L600.68 175.39 L601.52 170.10 L602.38 176.45 L603.13 170.02 L603.92 176.47 L605.08 170.71 L605.91 175.93 L606.50 170.70 L607.06 176.47 L608.18 170.78 L609.13 175.95 L609.91 171.39 L611.06 176.94 L611.96 170.76 L612.82 176.88 L613.62 171.16 L614.78 176.02 L615.68 171.93 L616.70 170.70 L617.35 176.81 L618.04 170.55 L619.01 176.38 L619.88 169.44 L620.67 176.70 L621.72 168.90 L622.80 174.95 L623.30 167.00 L623.43 175.04 L624.35 167.76 L625.13 175.33 L626.26 168.94 L627.32 174.99 L628.08 170.26 L628.40 169.90 L628.85 174.74 L629.57 170.96 L630.73 175.88 L631.52 170.59 L632.48 175.12 L633.36 170.95 L634.34 175.86 L635.30 171.13 L636.33 175.66 L637.02 171.88 L638.06 176.11 L638.86 172.10 L639.77 176.20 L640.59 171.27 L641.38 176.10 L642.29 171.81 L643.00 171.40 L643.17 177.15 L644.00 172.55 L645.03 177.30 L645.98 172.09 L646.63 176.87 L647.40 172.48 L648.27 177.08 L649.40 171.67 L650.51 177.36 L651.43 171.66 L652.07 177.10 L653.12 171.86 L653.98 176.97 L654.92 171.72 L655.93 177.62 L656.90 171.74 L657.60 178.20 L657.80 172.74 L658.92 177.04 L659.76 172.55 L660.60 177.31 L661.69 171.94 L662.42 177.92 L663.40 171.40 L664.29 177.43 L664.96 171.68 L666.04 177.83 L667.04 172.05 L668.20 172.10" fill="none" stroke="#000" stroke-width="1.70" stroke-linejoin="round"/>
<line x1="493.7" y1="14.8" x2="530.7" y2="14.8" stroke="#000" stroke-width="2.2"/>
<line x1="493.7" y1="29.4" x2="530.7" y2="29.4" stroke="#ee0000" stroke-width="2.2"/>
<g transform="translate(533.80 18.40) scale(1.3542 1.0000)" font-weight="normal" fill="#000" stroke="#000" stroke-width="0.102"><text xml:space="preserve" x="0.00" y="0.00" font-size="12.00">P1HP</text></g>
<g transform="translate(535.02 33.10) scale(1.3012 1.0000)" font-weight="normal" fill="#000" stroke="#000" stroke-width="0.104"><text xml:space="preserve" x="0.00" y="0.00" font-size="12.00">WO</text><text xml:space="preserve" x="20.66" y="2.64" font-size="8.40">3-X</text><text xml:space="preserve" x="33.73" y="0.00" font-size="12.00">I</text><text xml:space="preserve" x="37.06" y="2.64" font-size="8.40">X</text><text xml:space="preserve" x="42.67" y="0.00" font-size="12.00">/I-P1HP</text></g>
<g transform="translate(591.48 57.00) scale(1.1455 1.0000)" font-weight="normal" fill="#000" stroke="#000" stroke-width="0.112"><text xml:space="preserve" x="0.00" y="0.00" font-size="9.00">+</text></g>
<g transform="translate(602.54 57.70) scale(1.2759 1.0000)" font-weight="normal" fill="#000" stroke="#000" stroke-width="0.105"><text xml:space="preserve" x="0.00" y="0.00" font-size="9.60">WO</text><text xml:space="preserve" x="16.53" y="2.11" font-size="6.72">3-X</text><text xml:space="preserve" x="26.98" y="0.00" font-size="9.60">I</text><text xml:space="preserve" x="29.65" y="2.11" font-size="6.72">X</text></g>
<g transform="translate(591.24 70.80) scale(1.1468 1.0000)" font-weight="normal" fill="#000" stroke="#000" stroke-width="0.112"><text xml:space="preserve" x="0.00" y="0.00" font-size="9.60">#</text></g>
<g transform="translate(601.37 70.80) scale(1.4254 1.0000)" font-weight="normal" fill="#000" stroke="#000" stroke-width="0.099"><text xml:space="preserve" x="0.00" y="0.00" font-size="9.60">I</text></g>
<g transform="translate(591.25 83.40) scale(0.9737 1.0000)" font-weight="normal" fill="#000" stroke="#000" stroke-width="0.122"><text xml:space="preserve" x="0.00" y="0.00" font-size="9.60">^</text></g>
<g transform="translate(600.02 83.40) scale(1.2811 1.0000)" font-weight="normal" fill="#000" stroke="#000" stroke-width="0.105"><text xml:space="preserve" x="0.00" y="0.00" font-size="9.60">P1HP</text></g>
<path d="M377.70 34.30H384.30M381.00 31.00V37.60" stroke="#000" stroke-width="1.50" fill="none"/>
<path d="M385.70 32.80H392.30M389.00 29.50V36.10" stroke="#000" stroke-width="1.50" fill="none"/>
<path d="M400.30 29.90H406.90M403.60 26.60V33.20" stroke="#000" stroke-width="1.50" fill="none"/>
<path d="M412.70 42.30H419.30M416.00 39.00V45.60" stroke="#000" stroke-width="1.50" fill="none"/>
<path d="M436.00 58.40H442.60M439.30 55.10V61.70" stroke="#000" stroke-width="1.50" fill="none"/>
<path d="M458.70 67.90H465.30M462.00 64.60V71.20" stroke="#000" stroke-width="1.50" fill="none"/>
<path d="M466.50 88.00H473.10M469.80 84.70V91.30" stroke="#000" stroke-width="1.50" fill="none"/>
<path d="M477.90 95.00H484.50M481.20 91.70V98.30" stroke="#000" stroke-width="1.50" fill="none"/>
<path d="M517.60 103.40H524.20M520.90 100.10V106.70" stroke="#000" stroke-width="1.50" fill="none"/>
<path d="M564.20 123.30H570.80M567.50 120.00V126.60" stroke="#000" stroke-width="1.50" fill="none"/>
<path d="M572.10 111.50H578.70M575.40 108.20V114.80" stroke="#000" stroke-width="1.50" fill="none"/>
<path d="M590.90 119.80H597.50M594.20 116.50V123.10" stroke="#000" stroke-width="1.50" fill="none"/>
<path d="M651.50 121.50H658.10M654.80 118.20V124.80" stroke="#000" stroke-width="1.50" fill="none"/>
<path d="M371.30 37.77L373.60 35.23L375.90 37.77" stroke="#000" stroke-width="1.25" fill="none"/>
<path d="M396.90 39.97L399.20 37.44L401.50 39.97" stroke="#000" stroke-width="1.25" fill="none"/>
<path d="M418.10 50.16L420.40 47.63L422.70 50.16" stroke="#000" stroke-width="1.25" fill="none"/>
<path d="M429.70 59.66L432.00 57.13L434.30 59.66" stroke="#000" stroke-width="1.25" fill="none"/>
<path d="M441.30 67.97L443.60 65.44L445.90 67.97" stroke="#000" stroke-width="1.25" fill="none"/>
<path d="M399.70 127.06L402.00 124.53L404.30 127.06" stroke="#000" stroke-width="1.25" fill="none"/>
<path d="M406.40 121.17L408.70 118.64L411.00 121.17" stroke="#000" stroke-width="1.25" fill="none"/>
<path d="M418.40 126.17L420.70 123.64L423.00 126.17" stroke="#000" stroke-width="1.25" fill="none"/>
<path d="M425.10 121.47L427.40 118.94L429.70 121.47" stroke="#000" stroke-width="1.25" fill="none"/>
<path d="M435.10 136.66L437.40 134.14L439.70 136.66" stroke="#000" stroke-width="1.25" fill="none"/>
<path d="M456.80 141.46L459.10 138.94L461.40 141.46" stroke="#000" stroke-width="1.25" fill="none"/>
<g transform="translate(485.93 108.90) scale(1.1905 1.0000)" font-weight="bold" fill="#000" stroke="#000" stroke-width="0.110"><text xml:space="preserve" x="0.00" y="0.00" font-size="9.60">#</text></g>
<g transform="translate(494.63 113.40) scale(1.1905 1.0000)" font-weight="bold" fill="#000" stroke="#000" stroke-width="0.110"><text xml:space="preserve" x="0.00" y="0.00" font-size="9.60">#</text></g>
<g transform="translate(503.43 108.60) scale(1.1905 1.0000)" font-weight="bold" fill="#000" stroke="#000" stroke-width="0.110"><text xml:space="preserve" x="0.00" y="0.00" font-size="9.60">#</text></g>
<g transform="translate(534.23 113.00) scale(1.1905 1.0000)" font-weight="bold" fill="#000" stroke="#000" stroke-width="0.110"><text xml:space="preserve" x="0.00" y="0.00" font-size="9.60">#</text></g>
<g transform="translate(540.13 113.00) scale(1.1905 1.0000)" font-weight="bold" fill="#000" stroke="#000" stroke-width="0.110"><text xml:space="preserve" x="0.00" y="0.00" font-size="9.60">#</text></g>
<g transform="translate(601.53 126.30) scale(1.1905 1.0000)" font-weight="bold" fill="#000" stroke="#000" stroke-width="0.110"><text xml:space="preserve" x="0.00" y="0.00" font-size="9.60">#</text></g>
<g transform="translate(611.63 126.70) scale(1.1905 1.0000)" font-weight="bold" fill="#000" stroke="#000" stroke-width="0.110"><text xml:space="preserve" x="0.00" y="0.00" font-size="9.60">#</text></g>
<g transform="translate(624.83 128.40) scale(1.1905 1.0000)" font-weight="bold" fill="#000" stroke="#000" stroke-width="0.110"><text xml:space="preserve" x="0.00" y="0.00" font-size="9.60">#</text></g>
<g transform="translate(382.73 26.78) rotate(-90) scale(0.8048 1.0000)" font-weight="normal" fill="#000" stroke="#000" stroke-width="0.250"><text xml:space="preserve" x="0.00" y="0.00" font-size="9.84">(002)</text></g>
<g transform="translate(394.43 29.75) rotate(-90) scale(0.9381 1.0000)" font-weight="normal" fill="#000" stroke="#000" stroke-width="0.250"><text xml:space="preserve" x="0.00" y="0.00" font-size="9.84">(020)</text></g>
<g transform="translate(407.13 28.29) rotate(-90) scale(1.0071 1.0000)" font-weight="normal" fill="#000" stroke="#000" stroke-width="0.250"><text xml:space="preserve" x="0.00" y="0.00" font-size="9.84">(200)</text></g>
<g transform="translate(420.33 37.75) rotate(-90) scale(0.9381 1.0000)" font-weight="normal" fill="#000" stroke="#000" stroke-width="0.250"><text xml:space="preserve" x="0.00" y="0.00" font-size="9.84">(120)</text></g>
<g transform="translate(442.93 56.82) rotate(-90) scale(1.0425 1.0000)" font-weight="normal" fill="#000" stroke="#000" stroke-width="0.250"><text xml:space="preserve" x="0.00" y="0.00" font-size="9.84">(112)</text></g>
<g transform="translate(465.23 63.05) rotate(-90) scale(0.9243 1.0000)" font-weight="normal" fill="#000" stroke="#000" stroke-width="0.250"><text xml:space="preserve" x="0.00" y="0.00" font-size="9.84">(022)</text></g>
<g transform="translate(475.83 85.99) rotate(-90) scale(1.0071 1.0000)" font-weight="normal" fill="#000" stroke="#000" stroke-width="0.250"><text xml:space="preserve" x="0.00" y="0.00" font-size="9.84">(202)</text></g>
<g transform="translate(486.33 94.79) rotate(-90) scale(1.0071 1.0000)" font-weight="normal" fill="#000" stroke="#000" stroke-width="0.250"><text xml:space="preserve" x="0.00" y="0.00" font-size="9.84">(122)</text></g>
<g transform="translate(527.53 101.79) rotate(-90) scale(1.0071 1.0000)" font-weight="normal" fill="#000" stroke="#000" stroke-width="0.250"><text xml:space="preserve" x="0.00" y="0.00" font-size="9.84">(222)</text></g>
<g transform="translate(567.23 119.11) rotate(-90) scale(1.0255 1.0000)" font-weight="normal" fill="#000" stroke="#000" stroke-width="0.250"><text xml:space="preserve" x="0.00" y="0.00" font-size="9.84">(004)</text></g>
<g transform="translate(578.83 107.26) rotate(-90) scale(0.9473 1.0000)" font-weight="normal" fill="#000" stroke="#000" stroke-width="0.250"><text xml:space="preserve" x="0.00" y="0.00" font-size="9.84">(400)</text></g>
<g transform="translate(596.13 115.17) rotate(-90) scale(0.9616 1.0000)" font-weight="normal" fill="#000" stroke="#000" stroke-width="0.250"><text xml:space="preserve" x="0.00" y="0.00" font-size="9.84">(114)</text></g>
<g transform="translate(657.63 119.49) rotate(-90) scale(1.0071 1.0000)" font-weight="normal" fill="#000" stroke="#000" stroke-width="0.250"><text xml:space="preserve" x="0.00" y="0.00" font-size="9.84">(420)</text></g>
<rect x="37.40" y="228.60" width="297.90" height="182.00" fill="none" stroke="#585858" stroke-width="1.15"/>
<line x1="37.50" y1="410.60" x2="37.50" y2="413.90" stroke="#585858" stroke-width="1.00"/>
<line x1="136.59" y1="410.60" x2="136.59" y2="413.90" stroke="#585858" stroke-width="1.00"/>
<line x1="235.68" y1="410.60" x2="235.68" y2="413.90" stroke="#585858" stroke-width="1.00"/>
<line x1="334.77" y1="410.60" x2="334.77" y2="413.90" stroke="#585858" stroke-width="1.00"/>
<line x1="87.05" y1="410.60" x2="87.05" y2="412.60" stroke="#585858" stroke-width="1.00"/>
<line x1="186.13" y1="410.60" x2="186.13" y2="412.60" stroke="#585858" stroke-width="1.00"/>
<line x1="285.23" y1="410.60" x2="285.23" y2="412.60" stroke="#585858" stroke-width="1.00"/>
<g transform="translate(21.91 427.00) scale(1.3933 1.0000)" font-weight="normal" fill="#000" stroke="#000" stroke-width="0.100"><text xml:space="preserve" x="0.00" y="0.00" font-size="12.80">291</text></g>
<g transform="translate(121.37 427.00) scale(1.4534 1.0000)" font-weight="normal" fill="#000" stroke="#000" stroke-width="0.098"><text xml:space="preserve" x="0.00" y="0.00" font-size="12.80">288</text></g>
<g transform="translate(218.75 427.00) scale(1.4782 1.0000)" font-weight="normal" fill="#000" stroke="#000" stroke-width="0.097"><text xml:space="preserve" x="0.00" y="0.00" font-size="12.80">285</text></g>
<g transform="translate(319.29 427.00) scale(1.4277 1.0000)" font-weight="normal" fill="#000" stroke="#000" stroke-width="0.099"><text xml:space="preserve" x="0.00" y="0.00" font-size="12.80">282</text></g>
<g transform="translate(86.49 446.70) scale(1.4501 1.0000)" font-weight="normal" fill="#000" stroke="#000" stroke-width="0.098"><text xml:space="preserve" x="0.00" y="0.00" font-size="15.60">Binding energy (eV)</text></g>
<g transform="translate(128.44 241.10) scale(1.3150 1.0000)" font-weight="normal" fill="#000" stroke="#000" stroke-width="0.104"><text xml:space="preserve" x="0.00" y="0.00" font-size="13.10">C1s</text></g>
<g transform="translate(25.50 366.65) rotate(-90) scale(0.8418 1.0000)" font-weight="normal" fill="#000" stroke="#000" stroke-width="0.130"><text xml:space="preserve" x="0.00" y="0.00" font-size="20.50">Intensity (a.u)</text></g>
<g transform="translate(2.13 242.20) scale(1.3946 1.0000)" font-weight="normal" fill="#000" stroke="#000" stroke-width="0.100"><text xml:space="preserve" x="0.00" y="0.00" font-size="16.40">(c)</text></g>
<path d="M38.00 399.77 L38.50 399.75 L39.00 399.74 L39.50 399.73 L40.00 399.71 L40.50 399.70 L41.00 399.68 L41.50 399.67 L42.00 399.65 L42.50 399.64 L43.00 399.62 L43.50 399.60 L44.00 399.58 L44.50 399.56 L45.00 399.55 L45.50 399.53 L46.00 399.51 L46.50 399.48 L47.00 399.46 L47.50 399.44 L48.00 399.42 L48.50 399.39 L49.00 399.37 L49.50 399.35 L50.00 399.32 L50.50 399.29 L51.00 399.27 L51.50 399.24 L52.00 399.21 L52.50 399.18 L53.00 399.15 L53.50 399.12 L54.00 399.09 L54.50 399.06 L55.00 399.02 L55.50 398.99 L56.00 398.95 L56.50 398.92 L57.00 398.88 L57.50 398.84 L58.00 398.80 L58.50 398.76 L59.00 398.72 L59.50 398.68 L60.00 398.64 L60.50 398.60 L61.00 398.55 L61.50 398.50 L62.00 398.46 L62.50 398.41 L63.00 398.36 L63.50 398.31 L64.00 398.26 L64.50 398.20 L65.00 398.15 L65.50 398.10 L66.00 398.04 L66.50 397.98 L67.00 397.92 L67.50 397.86 L68.00 397.80 L68.50 397.74 L69.00 397.68 L69.50 397.61 L70.00 397.54 L70.50 397.48 L71.00 397.41 L71.50 397.34 L72.00 397.27 L72.50 397.19 L73.00 397.12 L73.50 397.04 L74.00 396.97 L74.50 396.89 L75.00 396.81 L75.50 396.73 L76.00 396.64 L76.50 396.56 L77.00 396.47 L77.50 396.39 L78.00 396.30 L78.50 396.21 L79.00 396.12 L79.50 396.03 L80.00 395.93 L80.50 395.84 L81.00 395.74 L81.50 395.64 L82.00 395.54 L82.50 395.44 L83.00 395.34 L83.50 395.24 L84.00 395.13 L84.50 395.02 L85.00 394.92 L85.50 394.81 L86.00 394.70 L86.50 394.59 L87.00 394.47 L87.50 394.36 L88.00 394.25 L88.50 394.13 L89.00 394.01 L89.50 393.89 L90.00 393.77 L90.50 393.65 L91.00 393.53 L91.50 393.41 L92.00 393.28 L92.50 393.16 L93.00 393.03 L93.50 392.90 L94.00 392.77 L94.50 392.65 L95.00 392.51 L95.50 392.38 L96.00 392.25 L96.50 392.12 L97.00 391.99 L97.50 391.85 L98.00 391.72 L98.50 391.58 L99.00 391.45 L99.50 391.31 L100.00 391.17 L100.50 391.04 L101.00 390.90 L101.50 390.76 L102.00 390.62 L102.50 390.48 L103.00 390.35 L103.50 390.21 L104.00 390.07 L104.50 389.93 L105.00 389.79 L105.50 389.65 L106.00 389.51 L106.50 389.37 L107.00 389.23 L107.50 389.09 L108.00 388.96 L108.50 388.82 L109.00 388.68 L109.50 388.54 L110.00 388.41 L110.50 388.27 L111.00 388.14 L111.50 388.00 L112.00 387.87 L112.50 387.73 L113.00 387.60 L113.50 387.47 L114.00 387.34 L114.50 387.21 L115.00 387.08 L115.50 386.96 L116.00 386.83 L116.50 386.71 L117.00 386.58 L117.50 386.46 L118.00 386.34 L118.50 386.22 L119.00 386.10 L119.50 385.99 L120.00 385.87 L120.50 385.76 L121.00 385.65 L121.50 385.54 L122.00 385.43 L122.50 385.32 L123.00 385.22 L123.50 385.12 L124.00 385.02 L124.50 384.92 L125.00 384.82 L125.50 384.73 L126.00 384.63 L126.50 384.54 L127.00 384.45 L127.50 384.36 L128.00 384.28 L128.50 384.20 L129.00 384.11 L129.50 384.03 L130.00 383.96 L130.50 383.88 L131.00 383.80 L131.50 383.73 L132.00 383.66 L132.50 383.59 L133.00 383.52 L133.50 383.45 L134.00 383.39 L134.50 383.32 L135.00 383.26 L135.50 383.19 L136.00 383.13 L136.50 383.07 L137.00 383.00 L137.50 382.94 L138.00 382.88 L138.50 382.82 L139.00 382.76 L139.50 382.69 L140.00 382.63 L140.50 382.56 L141.00 382.50 L141.50 382.43 L142.00 382.36 L142.50 382.29 L143.00 382.21 L143.50 382.13 L144.00 382.05 L144.50 381.97 L145.00 381.88 L145.50 381.79 L146.00 381.69 L146.50 381.59 L147.00 381.49 L147.50 381.38 L148.00 381.26 L148.50 381.14 L149.00 381.01 L149.50 380.87 L150.00 380.73 L150.50 380.58 L151.00 380.43 L151.50 380.26 L152.00 380.09 L152.50 379.91 L153.00 379.72 L153.50 379.53 L154.00 379.32 L154.50 379.11 L155.00 378.89 L155.50 378.66 L156.00 378.43 L156.50 378.18 L157.00 377.93 L157.50 377.66 L158.00 377.39 L158.50 377.12 L159.00 376.83 L159.50 376.54 L160.00 376.24 L160.50 375.93 L161.00 375.62 L161.50 375.30 L162.00 374.98 L162.50 374.65 L163.00 374.31 L163.50 373.97 L164.00 373.63 L164.50 373.28 L165.00 372.93 L165.50 372.57 L166.00 372.22 L166.50 371.86 L167.00 371.50 L167.50 371.14 L168.00 370.78 L168.50 370.41 L169.00 370.05 L169.50 369.69 L170.00 369.33 L170.50 368.97 L171.00 368.61 L171.50 368.25 L172.00 367.89 L172.50 367.53 L173.00 367.17 L173.50 366.82 L174.00 366.46 L174.50 366.11 L175.00 365.75 L175.50 365.40 L176.00 365.04 L176.50 364.69 L177.00 364.33 L177.50 363.97 L178.00 363.60 L178.50 363.23 L179.00 362.86 L179.50 362.49 L180.00 362.10 L180.50 361.71 L181.00 361.32 L181.50 360.91 L182.00 360.50 L182.50 360.07 L183.00 359.63 L183.50 359.18 L184.00 358.72 L184.50 358.25 L185.00 357.75 L185.50 357.24 L186.00 356.72 L186.50 356.18 L187.00 355.61 L187.50 355.03 L188.00 354.43 L188.50 353.80 L189.00 353.16 L189.50 352.49 L190.00 351.79 L190.50 351.08 L191.00 350.34 L191.50 349.57 L192.00 348.78 L192.50 347.96 L193.00 347.12 L193.50 346.25 L194.00 345.36 L194.50 344.44 L195.00 343.49 L195.50 342.51 L196.00 341.52 L196.50 340.49 L197.00 339.44 L197.50 338.37 L198.00 337.27 L198.50 336.14 L199.00 334.99 L199.50 333.82 L200.00 332.63 L200.50 331.42 L201.00 330.18 L201.50 328.93 L202.00 327.66 L202.50 326.37 L203.00 325.06 L203.50 323.73 L204.00 322.39 L204.50 321.04 L205.00 319.67 L205.50 318.30 L206.00 316.91 L206.50 315.51 L207.00 314.11 L207.50 312.70 L208.00 311.28 L208.50 309.86 L209.00 308.43 L209.50 307.01 L210.00 305.59 L210.50 304.16 L211.00 302.74 L211.50 301.33 L212.00 299.92 L212.50 298.52 L213.00 297.12 L213.50 295.74 L214.00 294.37 L214.50 293.01 L215.00 291.66 L215.50 290.33 L216.00 289.02 L216.50 287.73 L217.00 286.46 L217.50 285.21 L218.00 283.98 L218.50 282.78 L219.00 281.60 L219.50 280.46 L220.00 279.34 L220.50 278.25 L221.00 277.19 L221.50 276.16 L222.00 275.17 L222.50 274.22 L223.00 273.30 L223.50 272.42 L224.00 271.57 L224.50 270.77 L225.00 270.01 L225.50 269.29 L226.00 268.62 L226.50 267.99 L227.00 267.40 L227.50 266.86 L228.00 266.37 L228.50 265.92 L229.00 265.52 L229.50 265.18 L230.00 264.88 L230.50 264.63 L231.00 264.43 L231.50 264.28 L232.00 264.18 L232.50 264.14 L233.00 264.15 L233.50 264.20 L234.00 264.31 L234.50 264.47 L235.00 264.68 L235.50 264.95 L236.00 265.26 L236.50 265.63 L237.00 266.04 L237.50 266.51 L238.00 267.02 L238.50 267.58 L239.00 268.19 L239.50 268.85 L240.00 269.55 L240.50 270.30 L241.00 271.10 L241.50 271.94 L242.00 272.82 L242.50 273.74 L243.00 274.71 L243.50 275.71 L244.00 276.76 L244.50 277.84 L245.00 278.95 L245.50 280.11 L246.00 281.29 L246.50 282.51 L247.00 283.76 L247.50 285.04 L248.00 286.35 L248.50 287.69 L249.00 289.05 L249.50 290.44 L250.00 291.85 L250.50 293.29 L251.00 294.74 L251.50 296.22 L252.00 297.71 L252.50 299.22 L253.00 300.74 L253.50 302.28 L254.00 303.84 L254.50 305.40 L255.00 306.97 L255.50 308.56 L256.00 310.15 L256.50 311.75 L257.00 313.35 L257.50 314.96 L258.00 316.57 L258.50 318.18 L259.00 319.79 L259.50 321.41 L260.00 323.02 L260.50 324.63 L261.00 326.23 L261.50 327.83 L262.00 329.43 L262.50 331.02 L263.00 332.60 L263.50 334.17 L264.00 335.73 L264.50 337.29 L265.00 338.83 L265.50 340.36 L266.00 341.88 L266.50 343.38 L267.00 344.87 L267.50 346.35 L268.00 347.81 L268.50 349.25 L269.00 350.68 L269.50 352.09 L270.00 353.48 L270.50 354.86 L271.00 356.22 L271.50 357.56 L272.00 358.87 L272.50 360.17 L273.00 361.45 L273.50 362.71 L274.00 363.95 L274.50 365.17 L275.00 366.37 L275.50 367.54 L276.00 368.70 L276.50 369.83 L277.00 370.94 L277.50 372.03 L278.00 373.10 L278.50 374.15 L279.00 375.17 L279.50 376.18 L280.00 377.16 L280.50 378.12 L281.00 379.06 L281.50 379.97 L282.00 380.87 L282.50 381.74 L283.00 382.59 L283.50 383.43 L284.00 384.24 L284.50 385.03 L285.00 385.80 L285.50 386.55 L286.00 387.28 L286.50 387.99 L287.00 388.68 L287.50 389.35 L288.00 390.00 L288.50 390.64 L289.00 391.25 L289.50 391.85 L290.00 392.43 L290.50 392.99 L291.00 393.54 L291.50 394.07 L292.00 394.58 L292.50 395.08 L293.00 395.56 L293.50 396.02 L294.00 396.47 L294.50 396.91 L295.00 397.33 L295.50 397.73 L296.00 398.13 L296.50 398.51 L297.00 398.87 L297.50 399.23 L298.00 399.57 L298.50 399.90 L299.00 400.21 L299.50 400.52 L300.00 400.81 L300.50 401.10 L301.00 401.37 L301.50 401.63 L302.00 401.89 L302.50 402.13 L303.00 402.36 L303.50 402.59 L304.00 402.80 L304.50 403.01 L305.00 403.21 L305.50 403.40 L306.00 403.59 L306.50 403.77 L307.00 403.94 L307.50 404.10 L308.00 404.26 L308.50 404.41 L309.00 404.55 L309.50 404.69 L310.00 404.82 L310.50 404.95 L311.00 405.07 L311.50 405.19 L312.00 405.30 L312.50 405.40 L313.00 405.51 L313.50 405.61 L314.00 405.70 L314.50 405.79 L315.00 405.88 L315.50 405.96 L316.00 406.04 L316.50 406.11 L317.00 406.19 L317.50 406.26 L318.00 406.32 L318.50 406.39 L319.00 406.45 L319.50 406.50 L320.00 406.56 L320.50 406.61 L321.00 406.67 L321.50 406.71 L322.00 406.76 L322.50 406.81 L323.00 406.85 L323.50 406.89 L324.00 406.93 L324.50 406.97 L325.00 407.01 L325.50 407.04 L326.00 407.08 L326.50 407.11 L327.00 407.14 L327.50 407.17 L328.00 407.20 L328.50 407.23 L329.00 407.25 L329.50 407.28 L330.00 407.30 L330.50 407.33 L331.00 407.35 L331.50 407.37 L332.00 407.39 L332.50 407.41 L333.00 407.43 L333.50 407.45 L334.00 407.47 L334.50 407.49" fill="none" stroke="#000" stroke-width="2.40" stroke-linejoin="round" stroke-linecap="round"/>
<path d="M171.50 390.42 L172.00 390.03 L172.50 389.62 L173.00 389.20 L173.50 388.76 L174.00 388.30 L174.50 387.84 L175.00 387.35 L175.50 386.85 L176.00 386.34 L176.50 385.80 L177.00 385.25 L177.50 384.69 L178.00 384.10 L178.50 383.50 L179.00 382.88 L179.50 382.24 L180.00 381.58 L180.50 380.91 L181.00 380.21 L181.50 379.50 L182.00 378.76 L182.50 378.01 L183.00 377.23 L183.50 376.44 L184.00 375.63 L184.50 374.79 L185.00 373.93 L185.50 373.06 L186.00 372.16 L186.50 371.24 L187.00 370.30 L187.50 369.34 L188.00 368.36 L188.50 367.36 L189.00 366.33 L189.50 365.29 L190.00 364.22 L190.50 363.14 L191.00 362.03 L191.50 360.90 L192.00 359.75 L192.50 358.58 L193.00 357.39 L193.50 356.18 L194.00 354.96 L194.50 353.71 L195.00 352.44 L195.50 351.16 L196.00 349.85 L196.50 348.53 L197.00 347.19 L197.50 345.84 L198.00 344.47 L198.50 343.08 L199.00 341.67 L199.50 340.26 L200.00 338.83 L200.50 337.38 L201.00 335.92 L201.50 334.45 L202.00 332.97 L202.50 331.48 L203.00 329.98 L203.50 328.47 L204.00 326.96 L204.50 325.43 L205.00 323.91 L205.50 322.37 L206.00 320.83 L206.50 319.29 L207.00 317.75 L207.50 316.20 L208.00 314.66 L208.50 313.12 L209.00 311.58 L209.50 310.04 L210.00 308.51 L210.50 306.98 L211.00 305.46 L211.50 303.95 L212.00 302.45 L212.50 300.96 L213.00 299.48 L213.50 298.02 L214.00 296.57 L214.50 295.13 L215.00 293.72 L215.50 292.32 L216.00 290.94 L216.50 289.59 L217.00 288.25 L217.50 286.94 L218.00 285.66 L218.50 284.40 L219.00 283.17 L219.50 281.97 L220.00 280.80 L220.50 279.67 L221.00 278.56 L221.50 277.49 L222.00 276.46 L222.50 275.46 L223.00 274.50 L223.50 273.58 L224.00 272.70 L224.50 271.86 L225.00 271.06 L225.50 270.31 L226.00 269.60 L226.50 268.93 L227.00 268.32 L227.50 267.75 L228.00 267.22 L228.50 266.75 L229.00 266.32 L229.50 265.95 L230.00 265.62 L230.50 265.35 L231.00 265.12 L231.50 264.95 L232.00 264.83 L232.50 264.76 L233.00 264.75 L233.50 264.78 L234.00 264.87 L234.50 265.01 L235.00 265.20 L235.50 265.45 L236.00 265.74 L236.50 266.09 L237.00 266.49 L237.50 266.94 L238.00 267.44 L238.50 267.98 L239.00 268.58 L239.50 269.22 L240.00 269.91 L240.50 270.65 L241.00 271.43 L241.50 272.26 L242.00 273.13 L242.50 274.04 L243.00 274.99 L243.50 275.99 L244.00 277.02 L244.50 278.09 L245.00 279.20 L245.50 280.34 L246.00 281.52 L246.50 282.73 L247.00 283.97 L247.50 285.24 L248.00 286.54 L248.50 287.87 L249.00 289.23 L249.50 290.61 L250.00 292.01 L250.50 293.44 L251.00 294.89 L251.50 296.36 L252.00 297.84 L252.50 299.35 L253.00 300.87 L253.50 302.40 L254.00 303.95 L254.50 305.51 L255.00 307.08 L255.50 308.66 L256.00 310.24 L256.50 311.84 L257.00 313.44 L257.50 315.04 L258.00 316.65 L258.50 318.26 L259.00 319.87 L259.50 321.48 L260.00 323.09 L260.50 324.69 L261.00 326.29 L261.50 327.89 L262.00 329.48 L262.50 331.07 L263.00 332.65 L263.50 334.22 L264.00 335.78 L264.50 337.33 L265.00 338.87 L265.50 340.40 L266.00 341.91 L266.50 343.42 L267.00 344.90 L267.50 346.38 L268.00 347.84 L268.50 349.28 L269.00 350.71 L269.50 352.12 L270.00 353.51 L270.50 354.88 L271.00 356.24 L271.50 357.58 L272.00 358.90 L272.50 360.19 L273.00 361.47 L273.50 362.73 L274.00 363.97 L274.50 365.19 L275.00 366.38 L275.50 367.56 L276.00 368.71 L276.50 369.84 L277.00 370.96 L277.50 372.04 L278.00 373.11 L278.50 374.16 L279.00 375.18 L279.50 376.19 L280.00 377.17 L280.50 378.13 L281.00 379.06 L281.50 379.98 L282.00 380.87 L282.50 381.75 L283.00 382.60 L283.50 383.43 L284.00 384.24 L284.50 385.03 L285.00 385.80 L285.50 386.55 L286.00 387.28 L286.50 387.99 L287.00 388.68 L287.50 389.35 L288.00 390.01 L288.50 390.64 L289.00 391.26 L289.50 391.85 L290.00 392.43 L290.50 393.00 L291.00 393.54 L291.50 394.07 L292.00 394.58 L292.50 395.08 L293.00 395.56 L293.50 396.02 L294.00 396.47 L294.50 396.91 L295.00 397.33 L295.50 397.74 L296.00 398.13 L296.50 398.51 L297.00 398.87 L297.50 399.23 L298.00 399.57 L298.50 399.90 L299.00 400.21 L299.50 400.52 L300.00 400.81 L300.50 401.10 L301.00 401.37 L301.50 401.63 L302.00 401.89 L302.50 402.13 L303.00 402.36 L303.50 402.59 L304.00 402.81 L304.50 403.01 L305.00 403.21 L305.50 403.41 L306.00 403.59 L306.50 403.77 L307.00 403.94 L307.50 404.10 L308.00 404.26 L308.50 404.41 L309.00 404.55 L309.50 404.69 L310.00 404.82 L310.50 404.95 L311.00 405.07 L311.50 405.19 L312.00 405.30 L312.50 405.40 L313.00 405.51 L313.50 405.61 L314.00 405.70 L314.50 405.79 L315.00 405.88 L315.50 405.96 L316.00 406.04 L316.50 406.11 L317.00 406.19 L317.50 406.26 L318.00 406.32 L318.50 406.39 L319.00 406.45 L319.50 406.50 L320.00 406.56 L320.50 406.61 L321.00 406.67 L321.50 406.71 L322.00 406.76 L322.50 406.81 L323.00 406.85 L323.50 406.89 L324.00 406.93 L324.50 406.97 L325.00 407.01 L325.50 407.04 L326.00 407.08 L326.50 407.11 L327.00 407.14 L327.50 407.17 L328.00 407.20 L328.50 407.23 L329.00 407.25 L329.50 407.28 L330.00 407.30 L330.50 407.33 L331.00 407.35 L331.50 407.37 L332.00 407.39 L332.50 407.41 L333.00 407.43 L333.50 407.45 L334.00 407.47 L334.50 407.49" fill="none" stroke="#ff0000" stroke-width="2.60" stroke-linejoin="round" stroke-linecap="round"/>
<path d="M38.00 400.40 L38.50 400.40 L39.00 400.40 L39.50 400.40 L40.00 400.40 L40.50 400.40 L41.00 400.40 L41.50 400.40 L42.00 400.40 L42.50 400.40 L43.00 400.40 L43.50 400.40 L44.00 400.40 L44.50 400.40 L45.00 400.40 L45.50 400.40 L46.00 400.40 L46.50 400.40 L47.00 400.41 L47.50 400.41 L48.00 400.41 L48.50 400.41 L49.00 400.41 L49.50 400.41 L50.00 400.41 L50.50 400.41 L51.00 400.41 L51.50 400.41 L52.00 400.41 L52.50 400.41 L53.00 400.41 L53.50 400.41 L54.00 400.41 L54.50 400.41 L55.00 400.41 L55.50 400.41 L56.00 400.41 L56.50 400.41 L57.00 400.41 L57.50 400.41 L58.00 400.41 L58.50 400.42 L59.00 400.42 L59.50 400.42 L60.00 400.42 L60.50 400.42 L61.00 400.42 L61.50 400.42 L62.00 400.42 L62.50 400.42 L63.00 400.42 L63.50 400.42 L64.00 400.42 L64.50 400.42 L65.00 400.42 L65.50 400.43 L66.00 400.43 L66.50 400.43 L67.00 400.43 L67.50 400.43 L68.00 400.43 L68.50 400.43 L69.00 400.43 L69.50 400.43 L70.00 400.43 L70.50 400.44 L71.00 400.44 L71.50 400.44 L72.00 400.44 L72.50 400.44 L73.00 400.44 L73.50 400.44 L74.00 400.44 L74.50 400.44 L75.00 400.45 L75.50 400.45 L76.00 400.45 L76.50 400.45 L77.00 400.45 L77.50 400.45 L78.00 400.45 L78.50 400.46 L79.00 400.46 L79.50 400.46 L80.00 400.46 L80.50 400.46 L81.00 400.46 L81.50 400.47 L82.00 400.47 L82.50 400.47 L83.00 400.47 L83.50 400.47 L84.00 400.48 L84.50 400.48 L85.00 400.48 L85.50 400.48 L86.00 400.48 L86.50 400.49 L87.00 400.49 L87.50 400.49 L88.00 400.49 L88.50 400.49 L89.00 400.50 L89.50 400.50 L90.00 400.50 L90.50 400.50 L91.00 400.51 L91.50 400.51 L92.00 400.51 L92.50 400.51 L93.00 400.52 L93.50 400.52 L94.00 400.52 L94.50 400.53 L95.00 400.53 L95.50 400.53 L96.00 400.53 L96.50 400.54 L97.00 400.54 L97.50 400.54 L98.00 400.55 L98.50 400.55 L99.00 400.55 L99.50 400.56 L100.00 400.56 L100.50 400.56 L101.00 400.57 L101.50 400.57 L102.00 400.57 L102.50 400.58 L103.00 400.58 L103.50 400.59 L104.00 400.59 L104.50 400.59 L105.00 400.60 L105.50 400.60 L106.00 400.60 L106.50 400.61 L107.00 400.61 L107.50 400.62 L108.00 400.62 L108.50 400.63 L109.00 400.63 L109.50 400.63 L110.00 400.64 L110.50 400.64 L111.00 400.65 L111.50 400.65 L112.00 400.66 L112.50 400.66 L113.00 400.67 L113.50 400.67 L114.00 400.68 L114.50 400.68 L115.00 400.69 L115.50 400.69 L116.00 400.70 L116.50 400.70 L117.00 400.71 L117.50 400.71 L118.00 400.72 L118.50 400.72 L119.00 400.73 L119.50 400.73 L120.00 400.74 L120.50 400.74 L121.00 400.75 L121.50 400.75 L122.00 400.76 L122.50 400.76 L123.00 400.76 L123.50 400.77 L124.00 400.77 L124.50 400.78 L125.00 400.78 L125.50 400.79 L126.00 400.79 L126.50 400.79 L127.00 400.80 L127.50 400.80 L128.00 400.80 L128.50 400.81 L129.00 400.81 L129.50 400.81 L130.00 400.81 L130.50 400.81 L131.00 400.81 L131.50 400.81 L132.00 400.81 L132.50 400.81 L133.00 400.80 L133.50 400.80 L134.00 400.79 L134.50 400.79 L135.00 400.78 L135.50 400.77 L136.00 400.76 L136.50 400.74 L137.00 400.73 L137.50 400.71 L138.00 400.69 L138.50 400.67 L139.00 400.65 L139.50 400.62 L140.00 400.59 L140.50 400.56 L141.00 400.52 L141.50 400.48 L142.00 400.44 L142.50 400.40 L143.00 400.34 L143.50 400.29 L144.00 400.23 L144.50 400.17 L145.00 400.10 L145.50 400.02 L146.00 399.94 L146.50 399.86 L147.00 399.77 L147.50 399.67 L148.00 399.57 L148.50 399.46 L149.00 399.34 L149.50 399.22 L150.00 399.09 L150.50 398.96 L151.00 398.81 L151.50 398.66 L152.00 398.51 L152.50 398.35 L153.00 398.18 L153.50 398.00 L154.00 397.82 L154.50 397.63 L155.00 397.43 L155.50 397.23 L156.00 397.02 L156.50 396.81 L157.00 396.59 L157.50 396.37 L158.00 396.14 L158.50 395.91 L159.00 395.67 L159.50 395.44 L160.00 395.19 L160.50 394.95 L161.00 394.71 L161.50 394.46 L162.00 394.22 L162.50 393.98 L163.00 393.73 L163.50 393.50 L164.00 393.26 L164.50 393.03 L165.00 392.80 L165.50 392.58 L166.00 392.36 L166.50 392.15 L167.00 391.95 L167.50 391.76 L168.00 391.57 L168.50 391.40 L169.00 391.24 L169.50 391.09 L170.00 390.95 L170.50 390.82 L171.00 390.71 L171.50 390.61 L172.00 390.52 L172.50 390.45 L173.00 390.39 L173.50 390.35 L174.00 390.33 L174.50 390.32 L175.00 390.32 L175.50 390.34 L176.00 390.38 L176.50 390.43 L177.00 390.50 L177.50 390.58 L178.00 390.68 L178.50 390.79 L179.00 390.92 L179.50 391.06 L180.00 391.21 L180.50 391.38 L181.00 391.55 L181.50 391.74 L182.00 391.94 L182.50 392.15 L183.00 392.37 L183.50 392.60 L184.00 392.83 L184.50 393.08 L185.00 393.32 L185.50 393.58 L186.00 393.84 L186.50 394.10 L187.00 394.37 L187.50 394.64 L188.00 394.91 L188.50 395.18 L189.00 395.45 L189.50 395.72 L190.00 395.99 L190.50 396.26 L191.00 396.52 L191.50 396.79 L192.00 397.05 L192.50 397.30 L193.00 397.55 L193.50 397.80 L194.00 398.04 L194.50 398.28 L195.00 398.51 L195.50 398.74 L196.00 398.96 L196.50 399.17 L197.00 399.38 L197.50 399.58 L198.00 399.77 L198.50 399.96 L199.00 400.14 L199.50 400.31 L200.00 400.48 L200.50 400.64 L201.00 400.80 L201.50 400.95 L202.00 401.09 L202.50 401.23 L203.00 401.36 L203.50 401.49 L204.00 401.61 L204.50 401.73 L205.00 401.84 L205.50 401.95 L206.00 402.05 L206.50 402.15 L207.00 402.24 L207.50 402.33 L208.00 402.42 L208.50 402.50 L209.00 402.58 L209.50 402.66 L210.00 402.73 L210.50 402.80 L211.00 402.87 L211.50 402.94 L212.00 403.01 L212.50 403.07 L213.00 403.13 L213.50 403.19 L214.00 403.25 L214.50 403.31 L215.00 403.37 L215.50 403.42 L216.00 403.48 L216.50 403.53 L217.00 403.59 L217.50 403.64 L218.00 403.69 L218.50 403.74 L219.00 403.79 L219.50 403.85 L220.00 403.90 L220.50 403.95 L221.00 404.00 L221.50 404.05 L222.00 404.10 L222.50 404.15 L223.00 404.20 L223.50 404.25 L224.00 404.30 L224.50 404.35 L225.00 404.40 L225.50 404.45 L226.00 404.51 L226.50 404.56 L227.00 404.61 L227.50 404.66 L228.00 404.71 L228.50 404.76 L229.00 404.81 L229.50 404.87 L230.00 404.92 L230.50 404.97 L231.00 405.02 L231.50 405.07 L232.00 405.12 L232.50 405.18 L233.00 405.23 L233.50 405.28 L234.00 405.33 L234.50 405.39 L235.00 405.44 L235.50 405.49 L236.00 405.54 L236.50 405.59 L237.00 405.64 L237.50 405.69 L238.00 405.75 L238.50 405.80 L239.00 405.85 L239.50 405.90 L240.00 405.95 L240.50 406.00 L241.00 406.05 L241.50 406.10 L242.00 406.15 L242.50 406.20 L243.00 406.25 L243.50 406.29 L244.00 406.34 L244.50 406.39 L245.00 406.44 L245.50 406.48 L246.00 406.53 L246.50 406.58 L247.00 406.62 L247.50 406.67 L248.00 406.71 L248.50 406.76 L249.00 406.80 L249.50 406.84 L250.00 406.89 L250.50 406.93 L251.00 406.97 L251.50 407.01 L252.00 407.05 L252.50 407.09 L253.00 407.13 L253.50 407.17 L254.00 407.21 L254.50 407.25 L255.00 407.28 L255.50 407.32 L256.00 407.36 L256.50 407.39 L257.00 407.43 L257.50 407.46 L258.00 407.50 L258.50 407.53 L259.00 407.56 L259.50 407.60 L260.00 407.63 L260.50 407.66 L261.00 407.69 L261.50 407.72 L262.00 407.75 L262.50 407.78 L263.00 407.81 L263.50 407.83 L264.00 407.86 L264.50 407.89 L265.00 407.91 L265.50 407.94 L266.00 407.96 L266.50 407.99 L267.00 408.01 L267.50 408.03 L268.00 408.06 L268.50 408.08 L269.00 408.10 L269.50 408.12 L270.00 408.14 L270.50 408.16 L271.00 408.18 L271.50 408.20 L272.00 408.22 L272.50 408.24 L273.00 408.26 L273.50 408.27 L274.00 408.29 L274.50 408.31 L275.00 408.32 L275.50 408.34 L276.00 408.35 L276.50 408.37 L277.00 408.38 L277.50 408.39 L278.00 408.41 L278.50 408.42 L279.00 408.43 L279.50 408.45 L280.00 408.46 L280.50 408.47 L281.00 408.48 L281.50 408.49 L282.00 408.50 L282.50 408.51 L283.00 408.52 L283.50 408.53 L284.00 408.54 L284.50 408.55 L285.00 408.56 L285.50 408.57 L286.00 408.57 L286.50 408.58 L287.00 408.59 L287.50 408.60 L288.00 408.60 L288.50 408.61 L289.00 408.62 L289.50 408.62 L290.00 408.63 L290.50 408.64 L291.00 408.64 L291.50 408.65 L292.00 408.65 L292.50 408.66 L293.00 408.66 L293.50 408.67 L294.00 408.67 L294.50 408.68 L295.00 408.68 L295.50 408.69 L296.00 408.69 L296.50 408.69 L297.00 408.70 L297.50 408.70 L298.00 408.70 L298.50 408.71 L299.00 408.71 L299.50 408.71 L300.00 408.72 L300.50 408.72 L301.00 408.72 L301.50 408.73 L302.00 408.73 L302.50 408.73 L303.00 408.73 L303.50 408.74 L304.00 408.74 L304.50 408.74 L305.00 408.74 L305.50 408.74 L306.00 408.75 L306.50 408.75 L307.00 408.75 L307.50 408.75 L308.00 408.75 L308.50 408.75 L309.00 408.76 L309.50 408.76 L310.00 408.76 L310.50 408.76 L311.00 408.76 L311.50 408.76 L312.00 408.76 L312.50 408.77 L313.00 408.77 L313.50 408.77 L314.00 408.77 L314.50 408.77 L315.00 408.77 L315.50 408.77 L316.00 408.77 L316.50 408.78 L317.00 408.78 L317.50 408.78 L318.00 408.78 L318.50 408.78 L319.00 408.78 L319.50 408.78 L320.00 408.78 L320.50 408.78 L321.00 408.78 L321.50 408.78 L322.00 408.78 L322.50 408.79 L323.00 408.79 L323.50 408.79 L324.00 408.79 L324.50 408.79 L325.00 408.79 L325.50 408.79 L326.00 408.79 L326.50 408.79 L327.00 408.79 L327.50 408.79 L328.00 408.79 L328.50 408.79 L329.00 408.79 L329.50 408.79 L330.00 408.79 L330.50 408.80 L331.00 408.80 L331.50 408.80 L332.00 408.80 L332.50 408.80 L333.00 408.80 L333.50 408.80 L334.00 408.80 L334.50 408.80" fill="none" stroke="#2ee82e" stroke-width="2.40" stroke-linejoin="round" stroke-linecap="round"/>
<path d="M38.00 400.12 L38.50 400.11 L39.00 400.09 L39.50 400.08 L40.00 400.07 L40.50 400.06 L41.00 400.04 L41.50 400.03 L42.00 400.02 L42.50 400.00 L43.00 399.99 L43.50 399.97 L44.00 399.95 L44.50 399.94 L45.00 399.92 L45.50 399.90 L46.00 399.88 L46.50 399.87 L47.00 399.85 L47.50 399.83 L48.00 399.81 L48.50 399.78 L49.00 399.76 L49.50 399.74 L50.00 399.72 L50.50 399.69 L51.00 399.67 L51.50 399.64 L52.00 399.61 L52.50 399.59 L53.00 399.56 L53.50 399.53 L54.00 399.50 L54.50 399.47 L55.00 399.44 L55.50 399.41 L56.00 399.38 L56.50 399.34 L57.00 399.31 L57.50 399.27 L58.00 399.24 L58.50 399.20 L59.00 399.16 L59.50 399.12 L60.00 399.08 L60.50 399.04 L61.00 399.00 L61.50 398.95 L62.00 398.91 L62.50 398.86 L63.00 398.82 L63.50 398.77 L64.00 398.72 L64.50 398.67 L65.00 398.62 L65.50 398.56 L66.00 398.51 L66.50 398.46 L67.00 398.40 L67.50 398.34 L68.00 398.28 L68.50 398.23 L69.00 398.16 L69.50 398.10 L70.00 398.04 L70.50 397.97 L71.00 397.91 L71.50 397.84 L72.00 397.77 L72.50 397.70 L73.00 397.63 L73.50 397.56 L74.00 397.48 L74.50 397.41 L75.00 397.33 L75.50 397.25 L76.00 397.17 L76.50 397.09 L77.00 397.01 L77.50 396.93 L78.00 396.84 L78.50 396.76 L79.00 396.67 L79.50 396.58 L80.00 396.49 L80.50 396.40 L81.00 396.30 L81.50 396.21 L82.00 396.11 L82.50 396.02 L83.00 395.92 L83.50 395.82 L84.00 395.72 L84.50 395.62 L85.00 395.51 L85.50 395.41 L86.00 395.30 L86.50 395.19 L87.00 395.08 L87.50 394.97 L88.00 394.86 L88.50 394.75 L89.00 394.64 L89.50 394.52 L90.00 394.41 L90.50 394.29 L91.00 394.17 L91.50 394.05 L92.00 393.93 L92.50 393.81 L93.00 393.69 L93.50 393.57 L94.00 393.44 L94.50 393.32 L95.00 393.19 L95.50 393.07 L96.00 392.94 L96.50 392.81 L97.00 392.69 L97.50 392.56 L98.00 392.43 L98.50 392.30 L99.00 392.17 L99.50 392.03 L100.00 391.90 L100.50 391.77 L101.00 391.64 L101.50 391.51 L102.00 391.37 L102.50 391.24 L103.00 391.11 L103.50 390.97 L104.00 390.84 L104.50 390.71 L105.00 390.57 L105.50 390.44 L106.00 390.31 L106.50 390.17 L107.00 390.04 L107.50 389.91 L108.00 389.78 L108.50 389.65 L109.00 389.51 L109.50 389.38 L110.00 389.25 L110.50 389.12 L111.00 389.00 L111.50 388.87 L112.00 388.74 L112.50 388.62 L113.00 388.49 L113.50 388.37 L114.00 388.24 L114.50 388.12 L115.00 388.00 L115.50 387.88 L116.00 387.77 L116.50 387.65 L117.00 387.53 L117.50 387.42 L118.00 387.31 L118.50 387.20 L119.00 387.09 L119.50 386.98 L120.00 386.88 L120.50 386.77 L121.00 386.67 L121.50 386.57 L122.00 386.48 L122.50 386.38 L123.00 386.29 L123.50 386.20 L124.00 386.11 L124.50 386.02 L125.00 385.94 L125.50 385.86 L126.00 385.78 L126.50 385.70 L127.00 385.63 L127.50 385.55 L128.00 385.48 L128.50 385.42 L129.00 385.35 L129.50 385.29 L130.00 385.23 L130.50 385.18 L131.00 385.13 L131.50 385.08 L132.00 385.03 L132.50 384.98 L133.00 384.94 L133.50 384.90 L134.00 384.87 L134.50 384.84 L135.00 384.81 L135.50 384.78 L136.00 384.76 L136.50 384.74 L137.00 384.72 L137.50 384.71 L138.00 384.70 L138.50 384.69 L139.00 384.69 L139.50 384.68 L140.00 384.69 L140.50 384.69 L141.00 384.70 L141.50 384.71 L142.00 384.73 L142.50 384.74 L143.00 384.76 L143.50 384.79 L144.00 384.82 L144.50 384.85 L145.00 384.88 L145.50 384.92 L146.00 384.96 L146.50 385.00 L147.00 385.05 L147.50 385.09 L148.00 385.15 L148.50 385.20 L149.00 385.26 L149.50 385.32 L150.00 385.38 L150.50 385.45 L151.00 385.52 L151.50 385.59 L152.00 385.67 L152.50 385.74 L153.00 385.83 L153.50 385.91 L154.00 385.99 L154.50 386.08 L155.00 386.17 L155.50 386.27 L156.00 386.36 L156.50 386.46 L157.00 386.56 L157.50 386.67 L158.00 386.77 L158.50 386.88 L159.00 386.99 L159.50 387.10 L160.00 387.21 L160.50 387.33 L161.00 387.45 L161.50 387.57 L162.00 387.69 L162.50 387.81 L163.00 387.94 L163.50 388.07 L164.00 388.19 L164.50 388.33 L165.00 388.46 L165.50 388.59 L166.00 388.73 L166.50 388.86 L167.00 389.00 L167.50 389.14 L168.00 389.28 L168.50 389.42 L169.00 389.56 L169.50 389.70 L170.00 389.85 L170.50 389.99 L171.00 390.14 L171.50 390.28 L172.00 390.43 L172.50 390.58 L173.00 390.73 L173.50 390.88 L174.00 391.02 L174.50 391.17 L175.00 391.32 L175.50 391.47 L176.00 391.63 L176.50 391.78 L177.00 391.93 L177.50 392.08 L178.00 392.23 L178.50 392.38 L179.00 392.53 L179.50 392.68 L180.00 392.83 L180.50 392.98 L181.00 393.13 L181.50 393.28 L182.00 393.43 L182.50 393.58 L183.00 393.73 L183.50 393.88 L184.00 394.03 L184.50 394.17 L185.00 394.32 L185.50 394.47 L186.00 394.61 L186.50 394.76 L187.00 394.90 L187.50 395.05 L188.00 395.19 L188.50 395.33 L189.00 395.47 L189.50 395.61 L190.00 395.75 L190.50 395.89 L191.00 396.03 L191.50 396.17 L192.00 396.30 L192.50 396.44 L193.00 396.57 L193.50 396.71 L194.00 396.84 L194.50 396.97 L195.00 397.10 L195.50 397.23 L196.00 397.36 L196.50 397.49 L197.00 397.62 L197.50 397.74 L198.00 397.87 L198.50 397.99 L199.00 398.11 L199.50 398.24 L200.00 398.36 L200.50 398.48 L201.00 398.60 L201.50 398.72 L202.00 398.83 L202.50 398.95 L203.00 399.07 L203.50 399.18 L204.00 399.30 L204.50 399.41 L205.00 399.52 L205.50 399.63 L206.00 399.74 L206.50 399.85 L207.00 399.96 L207.50 400.07 L208.00 400.18 L208.50 400.28 L209.00 400.39 L209.50 400.49 L210.00 400.60 L210.50 400.70 L211.00 400.80 L211.50 400.90 L212.00 401.00 L212.50 401.10 L213.00 401.20 L213.50 401.30 L214.00 401.40 L214.50 401.50 L215.00 401.59 L215.50 401.69 L216.00 401.78 L216.50 401.88 L217.00 401.97 L217.50 402.06 L218.00 402.15 L218.50 402.25 L219.00 402.34 L219.50 402.43 L220.00 402.52 L220.50 402.61 L221.00 402.69 L221.50 402.78 L222.00 402.87 L222.50 402.96 L223.00 403.04 L223.50 403.13 L224.00 403.21 L224.50 403.29 L225.00 403.38 L225.50 403.46 L226.00 403.54 L226.50 403.62 L227.00 403.71 L227.50 403.79 L228.00 403.87 L228.50 403.94 L229.00 404.02 L229.50 404.10 L230.00 404.18 L230.50 404.26 L231.00 404.33 L231.50 404.41 L232.00 404.48 L232.50 404.56 L233.00 404.63 L233.50 404.70 L234.00 404.77 L234.50 404.85 L235.00 404.92 L235.50 404.99 L236.00 405.06 L236.50 405.13 L237.00 405.20 L237.50 405.26 L238.00 405.33 L238.50 405.40 L239.00 405.46 L239.50 405.53 L240.00 405.59 L240.50 405.66 L241.00 405.72 L241.50 405.78 L242.00 405.84 L242.50 405.90 L243.00 405.96 L243.50 406.02 L244.00 406.08 L244.50 406.14 L245.00 406.20 L245.50 406.25 L246.00 406.31 L246.50 406.36 L247.00 406.42 L247.50 406.47 L248.00 406.52 L248.50 406.58 L249.00 406.63 L249.50 406.68 L250.00 406.73 L250.50 406.78 L251.00 406.82 L251.50 406.87 L252.00 406.92 L252.50 406.96 L253.00 407.01 L253.50 407.05 L254.00 407.10 L254.50 407.14 L255.00 407.18 L255.50 407.22 L256.00 407.26 L256.50 407.30 L257.00 407.34 L257.50 407.38 L258.00 407.42 L258.50 407.46 L259.00 407.49 L259.50 407.53 L260.00 407.56 L260.50 407.60 L261.00 407.63 L261.50 407.66 L262.00 407.69 L262.50 407.73 L263.00 407.76 L263.50 407.79 L264.00 407.82 L264.50 407.84 L265.00 407.87 L265.50 407.90 L266.00 407.93 L266.50 407.95 L267.00 407.98 L267.50 408.00 L268.00 408.03 L268.50 408.05 L269.00 408.07 L269.50 408.10 L270.00 408.12 L270.50 408.14 L271.00 408.16 L271.50 408.18 L272.00 408.20 L272.50 408.22 L273.00 408.24 L273.50 408.26 L274.00 408.27 L274.50 408.29 L275.00 408.31 L275.50 408.32 L276.00 408.34 L276.50 408.35 L277.00 408.37 L277.50 408.38 L278.00 408.40 L278.50 408.41 L279.00 408.42 L279.50 408.44 L280.00 408.45 L280.50 408.46 L281.00 408.47 L281.50 408.48 L282.00 408.49 L282.50 408.51 L283.00 408.52 L283.50 408.53 L284.00 408.53 L284.50 408.54 L285.00 408.55 L285.50 408.56 L286.00 408.57 L286.50 408.58 L287.00 408.59 L287.50 408.59 L288.00 408.60 L288.50 408.61 L289.00 408.61 L289.50 408.62 L290.00 408.63 L290.50 408.63 L291.00 408.64 L291.50 408.65 L292.00 408.65 L292.50 408.66 L293.00 408.66 L293.50 408.67 L294.00 408.67 L294.50 408.68 L295.00 408.68 L295.50 408.68 L296.00 408.69 L296.50 408.69 L297.00 408.70 L297.50 408.70 L298.00 408.70 L298.50 408.71 L299.00 408.71 L299.50 408.71 L300.00 408.72 L300.50 408.72 L301.00 408.72 L301.50 408.72 L302.00 408.73 L302.50 408.73 L303.00 408.73 L303.50 408.73 L304.00 408.74 L304.50 408.74 L305.00 408.74 L305.50 408.74 L306.00 408.75 L306.50 408.75 L307.00 408.75 L307.50 408.75 L308.00 408.75 L308.50 408.75 L309.00 408.76 L309.50 408.76 L310.00 408.76 L310.50 408.76 L311.00 408.76 L311.50 408.76 L312.00 408.76 L312.50 408.77 L313.00 408.77 L313.50 408.77 L314.00 408.77 L314.50 408.77 L315.00 408.77 L315.50 408.77 L316.00 408.77 L316.50 408.78 L317.00 408.78 L317.50 408.78 L318.00 408.78 L318.50 408.78 L319.00 408.78 L319.50 408.78 L320.00 408.78 L320.50 408.78 L321.00 408.78 L321.50 408.78 L322.00 408.78 L322.50 408.79 L323.00 408.79 L323.50 408.79 L324.00 408.79 L324.50 408.79 L325.00 408.79 L325.50 408.79 L326.00 408.79 L326.50 408.79 L327.00 408.79 L327.50 408.79 L328.00 408.79 L328.50 408.79 L329.00 408.79 L329.50 408.79 L330.00 408.79 L330.50 408.80 L331.00 408.80 L331.50 408.80 L332.00 408.80 L332.50 408.80 L333.00 408.80 L333.50 408.80 L334.00 408.80 L334.50 408.80" fill="none" stroke="#8a7a14" stroke-width="2.30" stroke-linejoin="round" stroke-linecap="round"/>
<line x1="142.30" y1="372.30" x2="142.30" y2="395.20" stroke="#1c1c7a" stroke-width="1.10" stroke-dasharray="1.5 0.9"/>
<line x1="174.20" y1="358.00" x2="174.20" y2="394.20" stroke="#1c1c7a" stroke-width="1.10" stroke-dasharray="1.5 0.9"/>
<line x1="233.20" y1="256.60" x2="233.20" y2="274.70" stroke="#1c1c7a" stroke-width="1.10" stroke-dasharray="1.5 0.9"/>
<rect x="373.20" y="228.00" width="297.30" height="182.60" fill="none" stroke="#585858" stroke-width="1.15"/>
<line x1="406.50" y1="410.60" x2="406.50" y2="413.90" stroke="#585858" stroke-width="1.00"/>
<line x1="472.34" y1="410.60" x2="472.34" y2="413.90" stroke="#585858" stroke-width="1.00"/>
<line x1="538.18" y1="410.60" x2="538.18" y2="413.90" stroke="#585858" stroke-width="1.00"/>
<line x1="604.02" y1="410.60" x2="604.02" y2="413.90" stroke="#585858" stroke-width="1.00"/>
<line x1="669.86" y1="410.60" x2="669.86" y2="413.90" stroke="#585858" stroke-width="1.00"/>
<line x1="373.58" y1="410.60" x2="373.58" y2="412.60" stroke="#585858" stroke-width="1.00"/>
<line x1="439.42" y1="410.60" x2="439.42" y2="412.60" stroke="#585858" stroke-width="1.00"/>
<line x1="505.26" y1="410.60" x2="505.26" y2="412.60" stroke="#585858" stroke-width="1.00"/>
<line x1="571.10" y1="410.60" x2="571.10" y2="412.60" stroke="#585858" stroke-width="1.00"/>
<line x1="636.94" y1="410.60" x2="636.94" y2="412.60" stroke="#585858" stroke-width="1.00"/>
<g transform="translate(390.07 427.00) scale(1.4477 1.0000)" font-weight="normal" fill="#000" stroke="#000" stroke-width="0.098"><text xml:space="preserve" x="0.00" y="0.00" font-size="12.80">632</text></g>
<g transform="translate(455.85 427.00) scale(1.4782 1.0000)" font-weight="normal" fill="#000" stroke="#000" stroke-width="0.097"><text xml:space="preserve" x="0.00" y="0.00" font-size="12.80">628</text></g>
<g transform="translate(522.93 427.00) scale(1.3555 1.0000)" font-weight="normal" fill="#000" stroke="#000" stroke-width="0.102"><text xml:space="preserve" x="0.00" y="0.00" font-size="12.80">624</text></g>
<g transform="translate(588.18 427.00) scale(1.4438 1.0000)" font-weight="normal" fill="#000" stroke="#000" stroke-width="0.098"><text xml:space="preserve" x="0.00" y="0.00" font-size="12.80">620</text></g>
<g transform="translate(653.58 427.00) scale(1.4435 1.0000)" font-weight="normal" fill="#000" stroke="#000" stroke-width="0.098"><text xml:space="preserve" x="0.00" y="0.00" font-size="12.80">616</text></g>
<g transform="translate(421.50 444.70) scale(1.4413 1.0000)" font-weight="normal" fill="#000" stroke="#000" stroke-width="0.098"><text xml:space="preserve" x="0.00" y="0.00" font-size="15.60">Binding energy (eV)</text></g>
<g transform="translate(495.19 243.60) scale(1.4140 1.0000)" font-weight="normal" fill="#000" stroke="#000" stroke-width="0.099"><text xml:space="preserve" x="0.00" y="0.00" font-size="13.40">I3d</text></g>
<g transform="translate(358.70 365.46) rotate(-90) scale(0.8551 1.0000)" font-weight="normal" fill="#000" stroke="#000" stroke-width="0.129"><text xml:space="preserve" x="0.00" y="0.00" font-size="20.30">Intensity (a.u)</text></g>
<g transform="translate(336.18 240.80) scale(1.4412 1.0000)" font-weight="normal" fill="#000" stroke="#000" stroke-width="0.098"><text xml:space="preserve" x="0.00" y="0.00" font-size="16.40">(d)</text></g>
<path d="M374.20 366.90 C374.92 366.42 377.07 365.07 378.50 364.00 C379.93 362.93 381.22 362.08 382.80 360.50 C384.38 358.92 386.28 356.63 388.00 354.50 C389.72 352.37 391.77 349.87 393.10 347.70 C394.43 345.53 395.15 343.22 396.00 341.50 C396.85 339.78 397.40 338.40 398.20 337.40 C399.00 336.40 399.95 335.92 400.80 335.50 C401.65 335.08 402.27 335.57 403.30 334.90 C404.33 334.23 405.72 332.78 407.00 331.50 C408.28 330.22 409.67 329.12 411.00 327.20 C412.33 325.28 413.72 322.57 415.00 320.00 C416.28 317.43 417.62 314.55 418.70 311.80 C419.78 309.05 420.53 306.13 421.50 303.50 C422.47 300.87 423.58 297.92 424.50 296.00 C425.42 294.08 426.17 293.00 427.00 292.00 C427.83 291.00 428.67 290.28 429.50 290.00 C430.33 289.72 431.17 289.88 432.00 290.30 C432.83 290.72 433.58 291.13 434.50 292.50 C435.42 293.87 436.50 295.92 437.50 298.50 C438.50 301.08 439.35 304.33 440.50 308.00 C441.65 311.67 443.12 316.00 444.40 320.50 C445.68 325.00 446.92 330.25 448.20 335.00 C449.48 339.75 450.72 344.42 452.10 349.00 C453.48 353.58 454.80 358.02 456.50 362.50 C458.20 366.98 460.55 372.73 462.30 375.90 C464.05 379.07 465.28 380.00 467.00 381.50 C468.72 383.00 470.85 384.12 472.60 384.90 C474.35 385.68 475.80 385.78 477.50 386.20 C479.20 386.62 481.05 387.32 482.80 387.40 C484.55 387.48 486.30 386.67 488.00 386.70 C489.70 386.73 491.30 387.48 493.00 387.60 C494.70 387.72 496.37 387.28 498.20 387.40 C500.03 387.52 502.03 388.17 504.00 388.30 C505.97 388.43 507.33 388.18 510.00 388.20 C512.67 388.22 517.00 388.52 520.00 388.40 C523.00 388.28 525.40 387.67 528.00 387.50 C530.60 387.33 532.77 387.57 535.60 387.40 C538.43 387.23 542.00 386.93 545.00 386.50 C548.00 386.07 551.10 385.63 553.60 384.80 C556.10 383.97 557.87 382.98 560.00 381.50 C562.13 380.02 564.48 378.07 566.40 375.90 C568.32 373.73 569.80 371.07 571.50 368.50 C573.20 365.93 575.10 362.92 576.60 360.50 C578.10 358.08 579.22 356.13 580.50 354.00 C581.78 351.87 582.80 349.95 584.30 347.70 C585.80 345.45 587.78 342.85 589.50 340.50 C591.22 338.15 593.10 336.10 594.60 333.60 C596.10 331.10 597.22 328.72 598.50 325.50 C599.78 322.28 601.05 318.55 602.30 314.30 C603.55 310.05 604.72 305.12 606.00 300.00 C607.28 294.88 608.92 287.77 610.00 283.60 C611.08 279.43 611.65 277.57 612.50 275.00 C613.35 272.43 614.35 269.87 615.10 268.20 C615.85 266.53 616.37 265.73 617.00 265.00 C617.63 264.27 618.27 263.97 618.90 263.80 C619.53 263.63 620.15 263.70 620.80 264.00 C621.45 264.30 621.85 263.93 622.80 265.60 C623.75 267.27 625.22 270.15 626.50 274.00 C627.78 277.85 629.17 282.95 630.50 288.70 C631.83 294.45 633.22 301.67 634.50 308.50 C635.78 315.33 636.95 322.95 638.20 329.70 C639.45 336.45 640.72 343.02 642.00 349.00 C643.28 354.98 644.65 360.85 645.90 365.60 C647.15 370.35 648.22 374.08 649.50 377.50 C650.78 380.92 652.10 383.88 653.60 386.10 C655.10 388.32 656.80 389.60 658.50 390.80 C660.20 392.00 661.88 392.67 663.80 393.30 C665.72 393.93 668.97 394.38 670.00 394.60" fill="none" stroke="#000" stroke-width="2.40" stroke-linejoin="round" stroke-linecap="round" />
<path d="M374.20 370.30 C376.00 370.38 381.43 370.50 385.00 370.80 C388.57 371.10 392.27 371.62 395.60 372.10 C398.93 372.58 402.00 373.07 405.00 373.70 C408.00 374.33 411.10 375.15 413.60 375.90 C416.10 376.65 417.87 377.35 420.00 378.20 C422.13 379.05 424.57 380.20 426.40 381.00 C428.23 381.80 429.28 382.35 431.00 383.00 C432.72 383.65 434.37 384.15 436.70 384.90 C439.03 385.65 443.62 387.07 445.00 387.50" fill="none" stroke="#ff0000" stroke-width="2.30" stroke-linejoin="round" stroke-linecap="round" />
<path d="M374.20 368.20 C375.83 367.58 380.43 366.00 384.00 364.50 C387.57 363.00 392.77 361.03 395.60 359.20 C398.43 357.37 399.28 355.85 401.00 353.50 C402.72 351.15 404.48 348.18 405.90 345.10 C407.32 342.02 408.22 338.83 409.50 335.00 C410.78 331.17 412.27 326.18 413.60 322.10 C414.93 318.02 416.22 313.93 417.50 310.50 C418.78 307.07 419.97 304.33 421.30 301.50 C422.63 298.67 424.13 295.28 425.50 293.50 C426.87 291.72 428.25 290.97 429.50 290.80 C430.75 290.63 431.80 291.35 433.00 292.50 C434.20 293.65 435.45 295.03 436.70 297.70 C437.95 300.37 439.22 304.43 440.50 308.50 C441.78 312.57 443.12 317.52 444.40 322.10 C445.68 326.68 446.92 331.30 448.20 336.00 C449.48 340.70 450.80 345.80 452.10 350.30 C453.40 354.80 454.73 359.17 456.00 363.00 C457.27 366.83 458.45 370.43 459.70 373.30 C460.95 376.17 462.22 378.27 463.50 380.20 C464.78 382.13 465.98 383.68 467.40 384.90 C468.82 386.12 470.28 386.78 472.00 387.50 C473.72 388.22 475.53 388.83 477.70 389.20 C479.87 389.57 483.78 389.62 485.00 389.70" fill="none" stroke="#800000" stroke-width="2.60" stroke-linejoin="round" stroke-linecap="round" />
<path d="M535.00 389.60 C537.25 389.37 545.17 388.80 548.50 388.20 C551.83 387.60 552.87 386.98 555.00 386.00 C557.13 385.02 559.47 383.88 561.30 382.30 C563.13 380.72 564.30 378.85 566.00 376.50 C567.70 374.15 569.83 370.70 571.50 368.20 C573.17 365.70 574.28 363.63 576.00 361.50 C577.72 359.37 580.13 356.90 581.80 355.40 C583.47 353.90 584.52 353.15 586.00 352.50 C587.48 351.85 589.20 351.42 590.70 351.50 C592.20 351.58 593.50 351.93 595.00 353.00 C596.50 354.07 598.28 355.98 599.70 357.90 C601.12 359.82 602.22 361.93 603.50 364.50 C604.78 367.07 605.98 370.47 607.40 373.30 C608.82 376.13 610.28 379.15 612.00 381.50 C613.72 383.85 616.03 385.90 617.70 387.40 C619.37 388.90 620.30 389.65 622.00 390.50 C623.70 391.35 625.73 391.95 627.90 392.50 C630.07 393.05 632.43 393.45 635.00 393.80 C637.57 394.15 641.92 394.47 643.30 394.60" fill="none" stroke="#ff0000" stroke-width="2.60" stroke-linejoin="round" stroke-linecap="round" />
<path d="M560.00 389.90 C562.00 389.83 568.80 389.70 572.00 389.50 C575.20 389.30 577.03 389.37 579.20 388.70 C581.37 388.03 583.28 387.22 585.00 385.50 C586.72 383.78 588.08 381.32 589.50 378.40 C590.92 375.48 592.22 371.83 593.50 368.00 C594.78 364.17 595.95 360.23 597.20 355.40 C598.45 350.57 599.73 344.57 601.00 339.00 C602.27 333.43 603.63 327.50 604.80 322.00 C605.97 316.50 606.92 311.12 608.00 306.00 C609.08 300.88 610.30 295.47 611.30 291.30 C612.30 287.13 613.15 284.00 614.00 281.00 C614.85 278.00 615.65 275.17 616.40 273.30 C617.15 271.43 617.87 270.57 618.50 269.80 C619.13 269.03 619.62 268.75 620.20 268.70 C620.78 268.65 621.37 268.87 622.00 269.50 C622.63 270.13 623.23 271.00 624.00 272.50 C624.77 274.00 625.63 275.58 626.60 278.50 C627.57 281.42 628.73 285.32 629.80 290.00 C630.87 294.68 631.83 300.77 633.00 306.60 C634.17 312.43 635.52 318.58 636.80 325.00 C638.08 331.42 639.42 339.10 640.70 345.10 C641.98 351.10 643.22 356.30 644.50 361.00 C645.78 365.70 647.15 369.72 648.40 373.30 C649.65 376.88 650.72 379.93 652.00 382.50 C653.28 385.07 654.77 387.12 656.10 388.70 C657.43 390.28 658.72 391.15 660.00 392.00 C661.28 392.85 662.13 393.37 663.80 393.80 C665.47 394.23 668.97 394.47 670.00 394.60" fill="none" stroke="#0000e0" stroke-width="2.60" stroke-linejoin="round" stroke-linecap="round" />
<path d="M374.20 366.90 C375.17 366.25 378.13 364.28 380.00 363.00 C381.87 361.72 383.57 360.78 385.40 359.20 C387.23 357.62 389.40 354.95 391.00 353.50 C392.60 352.05 393.80 351.13 395.00 350.50 C396.20 349.87 397.12 349.65 398.20 349.70 C399.28 349.75 400.45 350.08 401.50 350.80 C402.55 351.52 403.33 352.60 404.50 354.00 C405.67 355.40 406.92 357.03 408.50 359.20 C410.08 361.37 411.87 364.22 414.00 367.00 C416.13 369.78 418.97 373.57 421.30 375.90 C423.63 378.23 425.43 379.50 428.00 381.00 C430.57 382.50 433.53 383.82 436.70 384.90 C439.87 385.98 443.17 386.78 447.00 387.50 C450.83 388.22 454.20 388.82 459.70 389.20 C465.20 389.58 471.62 389.67 480.00 389.80 C488.38 389.93 496.45 389.97 510.00 390.00 C523.55 390.03 548.48 389.88 561.30 390.00 C574.12 390.12 578.37 390.28 586.90 390.70 C595.43 391.12 603.95 391.85 612.50 392.50 C621.05 393.15 631.12 394.18 638.20 394.60 C645.28 395.02 649.70 394.92 655.00 395.00 C660.30 395.08 667.50 395.08 670.00 395.10" fill="none" stroke="#7f8008" stroke-width="2.40" stroke-linejoin="round" stroke-linecap="round" />
<line x1="396.90" y1="327.20" x2="396.90" y2="357.90" stroke="#1c1c7a" stroke-width="1.10" stroke-dasharray="1.5 0.9"/>
<line x1="429.50" y1="279.70" x2="429.50" y2="309.20" stroke="#1c1c7a" stroke-width="1.10" stroke-dasharray="1.5 0.9"/>
<line x1="591.50" y1="331.00" x2="591.50" y2="361.80" stroke="#1c1c7a" stroke-width="1.10" stroke-dasharray="1.5 0.9"/>
<line x1="620.20" y1="254.10" x2="620.20" y2="284.90" stroke="#1c1c7a" stroke-width="1.10" stroke-dasharray="1.5 0.9"/>
<rect x="38.50" y="457.50" width="296.80" height="181.50" fill="none" stroke="#585858" stroke-width="1.15"/>
<line x1="38.50" y1="639.00" x2="38.50" y2="642.30" stroke="#585858" stroke-width="1.00"/>
<line x1="87.97" y1="639.00" x2="87.97" y2="642.30" stroke="#585858" stroke-width="1.00"/>
<line x1="137.44" y1="639.00" x2="137.44" y2="642.30" stroke="#585858" stroke-width="1.00"/>
<line x1="186.91" y1="639.00" x2="186.91" y2="642.30" stroke="#585858" stroke-width="1.00"/>
<line x1="236.38" y1="639.00" x2="236.38" y2="642.30" stroke="#585858" stroke-width="1.00"/>
<line x1="285.85" y1="639.00" x2="285.85" y2="642.30" stroke="#585858" stroke-width="1.00"/>
<line x1="335.32" y1="639.00" x2="335.32" y2="642.30" stroke="#585858" stroke-width="1.00"/>
<line x1="63.23" y1="639.00" x2="63.23" y2="641.00" stroke="#585858" stroke-width="1.00"/>
<line x1="112.70" y1="639.00" x2="112.70" y2="641.00" stroke="#585858" stroke-width="1.00"/>
<line x1="162.18" y1="639.00" x2="162.18" y2="641.00" stroke="#585858" stroke-width="1.00"/>
<line x1="211.64" y1="639.00" x2="211.64" y2="641.00" stroke="#585858" stroke-width="1.00"/>
<line x1="261.12" y1="639.00" x2="261.12" y2="641.00" stroke="#585858" stroke-width="1.00"/>
<line x1="310.58" y1="639.00" x2="310.58" y2="641.00" stroke="#585858" stroke-width="1.00"/>
<g transform="translate(28.80 655.60) scale(1.3848 1.0000)" font-weight="normal" fill="#000" stroke="#000" stroke-width="0.101"><text xml:space="preserve" x="0.00" y="0.00" font-size="12.80">40</text></g>
<g transform="translate(77.89 655.60) scale(1.4253 1.0000)" font-weight="normal" fill="#000" stroke="#000" stroke-width="0.099"><text xml:space="preserve" x="0.00" y="0.00" font-size="12.80">39</text></g>
<g transform="translate(127.36 655.60) scale(1.4184 1.0000)" font-weight="normal" fill="#000" stroke="#000" stroke-width="0.099"><text xml:space="preserve" x="0.00" y="0.00" font-size="12.80">38</text></g>
<g transform="translate(176.83 655.60) scale(1.4323 1.0000)" font-weight="normal" fill="#000" stroke="#000" stroke-width="0.099"><text xml:space="preserve" x="0.00" y="0.00" font-size="12.80">37</text></g>
<g transform="translate(226.30 655.60) scale(1.4184 1.0000)" font-weight="normal" fill="#000" stroke="#000" stroke-width="0.099"><text xml:space="preserve" x="0.00" y="0.00" font-size="12.80">36</text></g>
<g transform="translate(275.77 655.60) scale(1.4184 1.0000)" font-weight="normal" fill="#000" stroke="#000" stroke-width="0.099"><text xml:space="preserve" x="0.00" y="0.00" font-size="12.80">35</text></g>
<g transform="translate(325.25 655.60) scale(1.4047 1.0000)" font-weight="normal" fill="#000" stroke="#000" stroke-width="0.100"><text xml:space="preserve" x="0.00" y="0.00" font-size="12.80">34</text></g>
<g transform="translate(86.99 674.70) scale(1.4509 1.0000)" font-weight="normal" fill="#000" stroke="#000" stroke-width="0.098"><text xml:space="preserve" x="0.00" y="0.00" font-size="15.60">Binding energy (eV)</text></g>
<g transform="translate(159.52 471.40) scale(1.2438 1.0000)" font-weight="normal" fill="#000" stroke="#000" stroke-width="0.107"><text xml:space="preserve" x="0.00" y="0.00" font-size="13.00">W4f</text></g>
<g transform="translate(30.90 600.37) rotate(-90) scale(0.7929 1.0000)" font-weight="normal" fill="#000" stroke="#000" stroke-width="0.134"><text xml:space="preserve" x="0.00" y="0.00" font-size="22.00">Intensity (a.u)</text></g>
<g transform="translate(6.20 468.90) scale(1.4246 1.0000)" font-weight="normal" fill="#000" stroke="#000" stroke-width="0.099"><text xml:space="preserve" x="0.00" y="0.00" font-size="16.40">(e)</text></g>
<path d="M39.10 615.00 C39.92 614.97 42.42 614.92 44.00 614.80 C45.58 614.68 46.93 614.63 48.60 614.30 C50.27 613.97 52.10 613.40 54.00 612.80 C55.90 612.20 57.83 611.53 60.00 610.70 C62.17 609.87 64.65 608.97 67.00 607.80 C69.35 606.63 71.85 605.42 74.10 603.70 C76.35 601.98 78.45 599.85 80.50 597.50 C82.55 595.15 84.65 592.10 86.40 589.60 C88.15 587.10 89.55 585.13 91.00 582.50 C92.45 579.87 93.80 576.80 95.10 573.80 C96.40 570.80 97.62 567.72 98.80 564.50 C99.98 561.28 101.05 557.67 102.20 554.50 C103.35 551.33 104.53 548.43 105.70 545.50 C106.87 542.57 108.03 539.73 109.20 536.90 C110.37 534.07 111.53 531.13 112.70 528.50 C113.87 525.87 115.02 523.30 116.20 521.10 C117.38 518.90 118.62 517.07 119.80 515.30 C120.98 513.53 122.13 511.88 123.30 510.50 C124.47 509.12 125.63 508.02 126.80 507.00 C127.97 505.98 129.13 505.13 130.30 504.40 C131.47 503.67 132.63 503.03 133.80 502.60 C134.97 502.17 136.18 501.90 137.30 501.80 C138.42 501.70 139.42 501.77 140.50 502.00 C141.58 502.23 142.38 502.28 143.80 503.20 C145.22 504.12 147.17 505.68 149.00 507.50 C150.83 509.32 153.08 511.85 154.80 514.10 C156.52 516.35 157.85 518.43 159.30 521.00 C160.75 523.57 162.05 526.75 163.50 529.50 C164.95 532.25 166.53 534.93 168.00 537.50 C169.47 540.07 171.00 542.48 172.30 544.90 C173.60 547.32 174.70 549.80 175.80 552.00 C176.90 554.20 177.78 556.43 178.90 558.10 C180.02 559.77 181.22 561.10 182.50 562.00 C183.78 562.90 185.35 563.43 186.60 563.50 C187.85 563.57 188.60 563.57 190.00 562.40 C191.40 561.23 193.25 558.98 195.00 556.50 C196.75 554.02 198.83 550.67 200.50 547.50 C202.17 544.33 203.53 540.72 205.00 537.50 C206.47 534.28 208.00 531.37 209.30 528.20 C210.60 525.03 211.63 521.72 212.80 518.50 C213.97 515.28 214.98 512.40 216.30 508.90 C217.62 505.40 219.23 501.02 220.70 497.50 C222.17 493.98 223.63 490.72 225.10 487.80 C226.57 484.88 228.03 482.33 229.50 480.00 C230.97 477.67 232.40 475.47 233.90 473.80 C235.40 472.13 237.05 470.93 238.50 470.00 C239.95 469.07 241.47 468.48 242.60 468.20 C243.73 467.92 243.98 467.58 245.30 468.30 C246.62 469.02 248.75 470.37 250.50 472.50 C252.25 474.63 254.03 477.85 255.80 481.10 C257.57 484.35 259.33 488.03 261.10 492.00 C262.87 495.97 264.65 500.33 266.40 504.90 C268.15 509.47 269.85 514.57 271.60 519.40 C273.35 524.23 275.13 529.07 276.90 533.90 C278.67 538.73 280.43 543.57 282.20 548.40 C283.97 553.23 285.73 558.38 287.50 562.90 C289.27 567.42 291.05 571.55 292.80 575.50 C294.55 579.45 296.25 583.07 298.00 586.60 C299.75 590.13 301.53 593.62 303.30 596.70 C305.07 599.78 306.83 602.83 308.60 605.10 C310.37 607.37 312.13 608.75 313.90 610.30 C315.67 611.85 317.23 613.15 319.20 614.40 C321.17 615.65 323.52 616.80 325.70 617.80 C327.88 618.80 330.82 619.83 332.30 620.40 C333.78 620.97 334.22 621.07 334.60 621.20" fill="none" stroke="#000" stroke-width="2.60" stroke-linejoin="round" stroke-linecap="round" />
<path d="M138.00 628.74 L138.50 628.74 L139.00 628.73 L139.50 628.71 L140.00 628.70 L140.50 628.69 L141.00 628.67 L141.50 628.65 L142.00 628.63 L142.50 628.61 L143.00 628.59 L143.50 628.56 L144.00 628.54 L144.50 628.51 L145.00 628.48 L145.50 628.45 L146.00 628.42 L146.50 628.38 L147.00 628.34 L147.50 628.30 L148.00 628.25 L148.50 628.20 L149.00 628.15 L149.50 628.10 L150.00 628.04 L150.50 627.98 L151.00 627.92 L151.50 627.85 L152.00 627.77 L152.50 627.70 L153.00 627.62 L153.50 627.53 L154.00 627.44 L154.50 627.35 L155.00 627.25 L155.50 627.15 L156.00 627.04 L156.50 626.92 L157.00 626.80 L157.50 626.68 L158.00 626.55 L158.50 626.41 L159.00 626.27 L159.50 626.12 L160.00 625.96 L160.50 625.80 L161.00 625.62 L161.50 625.45 L162.00 625.26 L162.50 625.07 L163.00 624.87 L163.50 624.66 L164.00 624.44 L164.50 624.22 L165.00 623.98 L165.50 623.74 L166.00 623.48 L166.50 623.22 L167.00 622.95 L167.50 622.67 L168.00 622.37 L168.50 622.07 L169.00 621.76 L169.50 621.43 L170.00 621.10 L170.50 620.75 L171.00 620.39 L171.50 620.02 L172.00 619.63 L172.50 619.23 L173.00 618.83 L173.50 618.40 L174.00 617.97 L174.50 617.52 L175.00 617.05 L175.50 616.58 L176.00 616.08 L176.50 615.58 L177.00 615.06 L177.50 614.52 L178.00 613.97 L178.50 613.40 L179.00 612.82 L179.50 612.22 L180.00 611.60 L180.50 610.97 L181.00 610.32 L181.50 609.65 L182.00 608.97 L182.50 608.27 L183.00 607.55 L183.50 606.82 L184.00 606.06 L184.50 605.29 L185.00 604.50 L185.50 603.69 L186.00 602.87 L186.50 602.02 L187.00 601.16 L187.50 600.28 L188.00 599.38 L188.50 598.46 L189.00 597.52 L189.50 596.56 L190.00 595.58 L190.50 594.58 L191.00 593.56 L191.50 592.52 L192.00 591.46 L192.50 590.38 L193.00 589.29 L193.50 588.17 L194.00 587.04 L194.50 585.89 L195.00 584.71 L195.50 583.52 L196.00 582.32 L196.50 581.09 L197.00 579.85 L197.50 578.58 L198.00 577.30 L198.50 576.01 L199.00 574.69 L199.50 573.36 L200.00 572.02 L200.50 570.65 L201.00 569.28 L201.50 567.88 L202.00 566.47 L202.50 565.05 L203.00 563.61 L203.50 562.16 L204.00 560.70 L204.50 559.22 L205.00 557.73 L205.50 556.23 L206.00 554.72 L206.50 553.20 L207.00 551.67 L207.50 550.13 L208.00 548.58 L208.50 547.03 L209.00 545.46 L209.50 543.89 L210.00 542.32 L210.50 540.73 L211.00 539.15 L211.50 537.56 L212.00 535.97 L212.50 534.37 L213.00 532.78 L213.50 531.18 L214.00 529.59 L214.50 528.00 L215.00 526.40 L215.50 524.82 L216.00 523.23 L216.50 521.65 L217.00 520.08 L217.50 518.51 L218.00 516.95 L218.50 515.40 L219.00 513.86 L219.50 512.33 L220.00 510.81 L220.50 509.31 L221.00 507.81 L221.50 506.33 L222.00 504.87 L222.50 503.42 L223.00 501.99 L223.50 500.58 L224.00 499.18 L224.50 497.81 L225.00 496.46 L225.50 495.12 L226.00 493.82 L226.50 492.53 L227.00 491.27 L227.50 490.04 L228.00 488.83 L228.50 487.65 L229.00 486.49 L229.50 485.37 L230.00 484.27 L230.50 483.21 L231.00 482.18 L231.50 481.17 L232.00 480.21 L232.50 479.27 L233.00 478.37 L233.50 477.51 L234.00 476.68 L234.50 475.88 L235.00 475.13 L235.50 474.41 L236.00 473.73 L236.50 473.09 L237.00 472.48 L237.50 471.92 L238.00 471.40 L238.50 470.91 L239.00 470.47 L239.50 470.07 L240.00 469.71 L240.50 469.39 L241.00 469.12 L241.50 468.88 L242.00 468.69 L242.50 468.54 L243.00 468.44 L243.50 468.37 L244.00 468.35 L244.50 468.38 L245.00 468.46 L245.50 468.60 L246.00 468.80 L246.50 469.06 L247.00 469.38 L247.50 469.75 L248.00 470.18 L248.50 470.68 L249.00 471.22 L249.50 471.83 L250.00 472.48 L250.50 473.20 L251.00 473.97 L251.50 474.79 L252.00 475.66 L252.50 476.59 L253.00 477.56 L253.50 478.59 L254.00 479.66 L254.50 480.79 L255.00 481.95 L255.50 483.17 L256.00 484.42 L256.50 485.73 L257.00 487.07 L257.50 488.45 L258.00 489.87 L258.50 491.33 L259.00 492.82 L259.50 494.35 L260.00 495.91 L260.50 497.51 L261.00 499.13 L261.50 500.78 L262.00 502.46 L262.50 504.17 L263.00 505.90 L263.50 507.65 L264.00 509.43 L264.50 511.22 L265.00 513.03 L265.50 514.86 L266.00 516.70 L266.50 518.56 L267.00 520.42 L267.50 522.30 L268.00 524.19 L268.50 526.08 L269.00 527.98 L269.50 529.89 L270.00 531.79 L270.50 533.70 L271.00 535.61 L271.50 537.52 L272.00 539.43 L272.50 541.33 L273.00 543.23 L273.50 545.12 L274.00 547.00 L274.50 548.87 L275.00 550.74 L275.50 552.59 L276.00 554.44 L276.50 556.27 L277.00 558.08 L277.50 559.88 L278.00 561.67 L278.50 563.44 L279.00 565.19 L279.50 566.92 L280.00 568.64 L280.50 570.33 L281.00 572.00 L281.50 573.66 L282.00 575.29 L282.50 576.90 L283.00 578.48 L283.50 580.05 L284.00 581.58 L284.50 583.10 L285.00 584.59 L285.50 586.06 L286.00 587.50 L286.50 588.91 L287.00 590.30 L287.50 591.66 L288.00 593.00 L288.50 594.31 L289.00 595.59 L289.50 596.85 L290.00 598.08 L290.50 599.28 L291.00 600.46 L291.50 601.61 L292.00 602.74 L292.50 603.83 L293.00 604.91 L293.50 605.95 L294.00 606.97 L294.50 607.97 L295.00 608.94 L295.50 609.89 L296.00 610.81 L296.50 611.70 L297.00 612.57 L297.50 613.42 L298.00 614.24 L298.50 615.05 L299.00 615.82 L299.50 616.58 L300.00 617.31 L300.50 618.02 L301.00 618.71 L301.50 619.38 L302.00 620.02 L302.50 620.65 L303.00 621.26 L303.50 621.84 L304.00 622.41 L304.50 622.96 L305.00 623.49 L305.50 624.00 L306.00 624.50 L306.50 624.98 L307.00 625.44 L307.50 625.88 L308.00 626.31 L308.50 626.73 L309.00 627.13 L309.50 627.51 L310.00 627.88 L310.50 628.24 L311.00 628.58 L311.50 628.91 L312.00 629.23 L312.50 629.53 L313.00 629.83 L313.50 630.11 L314.00 630.38 L314.50 630.64 L315.00 630.89 L315.50 631.13 L316.00 631.36 L316.50 631.58 L317.00 631.79 L317.50 631.99 L318.00 632.19 L318.50 632.37 L319.00 632.55 L319.50 632.72 L320.00 632.89 L320.50 633.05 L321.00 633.20 L321.50 633.34 L322.00 633.48 L322.50 633.61 L323.00 633.73 L323.50 633.86 L324.00 633.97 L324.50 634.08 L325.00 634.19 L325.50 634.29 L326.00 634.38 L326.50 634.48 L327.00 634.57 L327.50 634.65 L328.00 634.73 L328.50 634.81 L329.00 634.88 L329.50 634.96 L330.00 635.02 L330.50 635.09 L331.00 635.15 L331.50 635.21 L332.00 635.27 L332.50 635.32 L333.00 635.38 L333.50 635.43 L334.00 635.48 L334.50 635.52" fill="none" stroke="#ff0000" stroke-width="2.70" stroke-linejoin="round" stroke-linecap="round"/>
<path d="M39.20 623.59 L39.70 623.60 L40.20 623.60 L40.70 623.60 L41.20 623.60 L41.70 623.60 L42.20 623.60 L42.70 623.60 L43.20 623.60 L43.70 623.59 L44.20 623.59 L44.70 623.58 L45.20 623.57 L45.70 623.56 L46.20 623.55 L46.70 623.53 L47.20 623.52 L47.70 623.50 L48.20 623.48 L48.70 623.45 L49.20 623.43 L49.70 623.40 L50.20 623.37 L50.70 623.34 L51.20 623.31 L51.70 623.27 L52.20 623.23 L52.70 623.19 L53.20 623.14 L53.70 623.09 L54.20 623.04 L54.70 622.99 L55.20 622.93 L55.70 622.86 L56.20 622.80 L56.70 622.72 L57.20 622.65 L57.70 622.57 L58.20 622.48 L58.70 622.39 L59.20 622.30 L59.70 622.20 L60.20 622.10 L60.70 621.99 L61.20 621.87 L61.70 621.75 L62.20 621.62 L62.70 621.49 L63.20 621.35 L63.70 621.20 L64.20 621.04 L64.70 620.88 L65.20 620.71 L65.70 620.54 L66.20 620.35 L66.70 620.16 L67.20 619.96 L67.70 619.75 L68.20 619.53 L68.70 619.30 L69.20 619.06 L69.70 618.82 L70.20 618.56 L70.70 618.29 L71.20 618.02 L71.70 617.73 L72.20 617.43 L72.70 617.12 L73.20 616.79 L73.70 616.46 L74.20 616.11 L74.70 615.76 L75.20 615.38 L75.70 615.00 L76.20 614.60 L76.70 614.19 L77.20 613.77 L77.70 613.33 L78.20 612.88 L78.70 612.41 L79.20 611.93 L79.70 611.43 L80.20 610.92 L80.70 610.39 L81.20 609.84 L81.70 609.28 L82.20 608.71 L82.70 608.11 L83.20 607.50 L83.70 606.88 L84.20 606.23 L84.70 605.57 L85.20 604.90 L85.70 604.20 L86.20 603.49 L86.70 602.76 L87.20 602.01 L87.70 601.24 L88.20 600.46 L88.70 599.65 L89.20 598.83 L89.70 597.98 L90.20 597.12 L90.70 596.23 L91.20 595.33 L91.70 594.41 L92.20 593.47 L92.70 592.51 L93.20 591.53 L93.70 590.54 L94.20 589.52 L94.70 588.49 L95.20 587.45 L95.70 586.38 L96.20 585.30 L96.70 584.20 L97.20 583.08 L97.70 581.95 L98.20 580.80 L98.70 579.64 L99.20 578.46 L99.70 577.27 L100.20 576.06 L100.70 574.84 L101.20 573.60 L101.70 572.35 L102.20 571.09 L102.70 569.81 L103.20 568.53 L103.70 567.23 L104.20 565.92 L104.70 564.60 L105.20 563.28 L105.70 561.94 L106.20 560.60 L106.70 559.25 L107.20 557.89 L107.70 556.53 L108.20 555.16 L108.70 553.79 L109.20 552.41 L109.70 551.04 L110.20 549.66 L110.70 548.28 L111.20 546.90 L111.70 545.52 L112.20 544.15 L112.70 542.78 L113.20 541.41 L113.70 540.05 L114.20 538.69 L114.70 537.34 L115.20 536.00 L115.70 534.67 L116.20 533.34 L116.70 532.03 L117.20 530.74 L117.70 529.45 L118.20 528.18 L118.70 526.93 L119.20 525.69 L119.70 524.47 L120.20 523.27 L120.70 522.09 L121.20 520.93 L121.70 519.79 L122.20 518.67 L122.70 517.58 L123.20 516.52 L123.70 515.48 L124.20 514.47 L124.70 513.48 L125.20 512.53 L125.70 511.60 L126.20 510.71 L126.70 509.85 L127.20 509.02 L127.70 508.23 L128.20 507.47 L128.70 506.75 L129.20 506.07 L129.70 505.42 L130.20 504.81 L130.70 504.24 L131.20 503.70 L131.70 503.21 L132.20 502.76 L132.70 502.35 L133.20 501.98 L133.70 501.66 L134.20 501.38 L134.70 501.13 L135.20 500.94 L135.70 500.78 L136.20 500.67 L136.70 500.61 L137.20 500.59 L137.70 500.61 L138.20 500.67 L138.70 500.77 L139.20 500.92 L139.70 501.10 L140.20 501.33 L140.70 501.60 L141.20 501.90 L141.70 502.25 L142.20 502.63 L142.70 503.06 L143.20 503.52 L143.70 504.03 L144.20 504.57 L144.70 505.15 L145.20 505.77 L145.70 506.42 L146.20 507.11 L146.70 507.84 L147.20 508.60 L147.70 509.39 L148.20 510.21 L148.70 511.07 L149.20 511.96 L149.70 512.89 L150.20 513.84 L150.70 514.82 L151.20 515.83 L151.70 516.86 L152.20 517.93 L152.70 519.01 L153.20 520.13 L153.70 521.26 L154.20 522.42 L154.70 523.61 L155.20 524.81 L155.70 526.03 L156.20 527.27 L156.70 528.53 L157.20 529.81 L157.70 531.10 L158.20 532.41 L158.70 533.73 L159.20 535.07 L159.70 536.42 L160.20 537.77 L160.70 539.14 L161.20 540.52 L161.70 541.90 L162.20 543.29 L162.70 544.69 L163.20 546.09 L163.70 547.50 L164.20 548.91 L164.70 550.32 L165.20 551.73 L165.70 553.15 L166.20 554.56 L166.70 555.97 L167.20 557.38 L167.70 558.78 L168.20 560.19 L168.70 561.58 L169.20 562.98 L169.70 564.36 L170.20 565.74 L170.70 567.11 L171.20 568.47 L171.70 569.83 L172.20 571.17 L172.70 572.50 L173.20 573.83 L173.70 575.14 L174.20 576.44 L174.70 577.72 L175.20 579.00 L175.70 580.26 L176.20 581.50 L176.70 582.73 L177.20 583.95 L177.70 585.15 L178.20 586.34 L178.70 587.51 L179.20 588.66 L179.70 589.80 L180.20 590.92 L180.70 592.02 L181.20 593.11 L181.70 594.18 L182.20 595.23 L182.70 596.26 L183.20 597.27 L183.70 598.27 L184.20 599.25 L184.70 600.21 L185.20 601.15 L185.70 602.08 L186.20 602.98 L186.70 603.87 L187.20 604.74 L187.70 605.59 L188.20 606.43 L188.70 607.24 L189.20 608.04 L189.70 608.82 L190.20 609.58 L190.70 610.31 L191.20 611.04 L191.70 611.74 L192.20 612.43 L192.70 613.09 L193.20 613.75 L193.70 614.38 L194.20 615.00 L194.70 615.61 L195.20 616.19 L195.70 616.76 L196.20 617.32 L196.70 617.86 L197.20 618.38 L197.70 618.89 L198.20 619.39 L198.70 619.87 L199.20 620.34 L199.70 620.79 L200.20 621.23 L200.70 621.65 L201.20 622.07 L201.70 622.46 L202.20 622.85 L202.70 623.23 L203.20 623.59 L203.70 623.94 L204.20 624.28 L204.70 624.61 L205.20 624.93 L205.70 625.23 L206.20 625.53 L206.70 625.82 L207.20 626.09 L207.70 626.36 L208.20 626.62 L208.70 626.87 L209.20 627.11 L209.70 627.34 L210.20 627.56 L210.70 627.78 L211.20 627.99 L211.70 628.19 L212.20 628.38 L212.70 628.56 L213.20 628.74 L213.70 628.91 L214.20 629.08 L214.70 629.24 L215.20 629.39 L215.70 629.54 L216.20 629.68 L216.70 629.82 L217.20 629.95 L217.70 630.07 L218.20 630.20 L218.70 630.31 L219.20 630.42 L219.70 630.53 L220.20 630.64 L220.70 630.74 L221.20 630.83 L221.70 630.92 L222.20 631.01 L222.70 631.10 L223.20 631.18 L223.70 631.26 L224.20 631.33 L224.70 631.41 L225.20 631.48 L225.70 631.54 L226.20 631.61 L226.70 631.67 L227.20 631.73 L227.70 631.79 L228.20 631.84 L228.70 631.90 L229.20 631.95 L229.70 632.00 L230.20 632.05 L230.70 632.09 L231.20 632.14 L231.70 632.18 L232.20 632.22 L232.70 632.26 L233.20 632.30 L233.70 632.34 L234.20 632.38 L234.70 632.41 L235.20 632.45 L235.70 632.49 L236.20 632.52 L236.70 632.55 L237.20 632.58 L237.70 632.62 L238.20 632.65 L238.70 632.68 L239.20 632.71 L239.70 632.73 L240.20 632.76 L240.70 632.79 L241.20 632.82 L241.70 632.84 L242.20 632.87 L242.70 632.89 L243.20 632.92 L243.70 632.94 L244.20 632.96 L244.70 632.99 L245.20 633.01 L245.70 633.03 L246.20 633.06 L246.70 633.08 L247.20 633.10 L247.70 633.12 L248.20 633.14 L248.70 633.16 L249.20 633.18 L249.70 633.21" fill="none" stroke="#0000e0" stroke-width="2.70" stroke-linejoin="round" stroke-linecap="round"/>
<path d="M39.10 624.80 C47.45 625.25 71.82 626.73 89.20 627.50 C106.58 628.27 126.60 628.77 143.40 629.40 C160.20 630.03 174.88 630.75 190.00 631.30 C205.12 631.85 217.72 632.15 234.10 632.70 C250.48 633.25 271.55 634.05 288.30 634.60 C305.05 635.15 326.88 635.77 334.60 636.00" fill="none" stroke="#2ee82e" stroke-width="2.60" stroke-linejoin="round" stroke-linecap="round" />
<line x1="137.40" y1="488.50" x2="137.40" y2="521.00" stroke="#1c1c7a" stroke-width="1.10" stroke-dasharray="1.5 0.9"/>
<line x1="244.20" y1="460.00" x2="244.20" y2="493.80" stroke="#1c1c7a" stroke-width="1.10" stroke-dasharray="1.5 0.9"/>
<rect x="373.80" y="456.80" width="296.50" height="182.00" fill="none" stroke="#585858" stroke-width="1.15"/>
<line x1="385.48" y1="638.80" x2="385.48" y2="642.10" stroke="#585858" stroke-width="1.00"/>
<line x1="432.95" y1="638.80" x2="432.95" y2="642.10" stroke="#585858" stroke-width="1.00"/>
<line x1="480.42" y1="638.80" x2="480.42" y2="642.10" stroke="#585858" stroke-width="1.00"/>
<line x1="527.89" y1="638.80" x2="527.89" y2="642.10" stroke="#585858" stroke-width="1.00"/>
<line x1="575.36" y1="638.80" x2="575.36" y2="642.10" stroke="#585858" stroke-width="1.00"/>
<line x1="622.83" y1="638.80" x2="622.83" y2="642.10" stroke="#585858" stroke-width="1.00"/>
<line x1="670.30" y1="638.80" x2="670.30" y2="642.10" stroke="#585858" stroke-width="1.00"/>
<line x1="409.21" y1="638.80" x2="409.21" y2="640.80" stroke="#585858" stroke-width="1.00"/>
<line x1="456.68" y1="638.80" x2="456.68" y2="640.80" stroke="#585858" stroke-width="1.00"/>
<line x1="504.15" y1="638.80" x2="504.15" y2="640.80" stroke="#585858" stroke-width="1.00"/>
<line x1="551.62" y1="638.80" x2="551.62" y2="640.80" stroke="#585858" stroke-width="1.00"/>
<line x1="599.09" y1="638.80" x2="599.09" y2="640.80" stroke="#585858" stroke-width="1.00"/>
<line x1="646.56" y1="638.80" x2="646.56" y2="640.80" stroke="#585858" stroke-width="1.00"/>
<g transform="translate(370.06 655.90) scale(1.4686 1.0000)" font-weight="normal" fill="#000" stroke="#000" stroke-width="0.097"><text xml:space="preserve" x="0.00" y="0.00" font-size="12.80">600</text></g>
<g transform="translate(418.26 655.90) scale(1.4495 1.0000)" font-weight="normal" fill="#000" stroke="#000" stroke-width="0.098"><text xml:space="preserve" x="0.00" y="0.00" font-size="12.80">500</text></g>
<g transform="translate(466.03 655.90) scale(1.4315 1.0000)" font-weight="normal" fill="#000" stroke="#000" stroke-width="0.099"><text xml:space="preserve" x="0.00" y="0.00" font-size="12.80">400</text></g>
<g transform="translate(512.77 655.90) scale(1.4347 1.0000)" font-weight="normal" fill="#000" stroke="#000" stroke-width="0.099"><text xml:space="preserve" x="0.00" y="0.00" font-size="12.80">300</text></g>
<g transform="translate(559.89 655.90) scale(1.4290 1.0000)" font-weight="normal" fill="#000" stroke="#000" stroke-width="0.099"><text xml:space="preserve" x="0.00" y="0.00" font-size="12.80">200</text></g>
<g transform="translate(608.06 655.90) scale(1.3967 1.0000)" font-weight="normal" fill="#000" stroke="#000" stroke-width="0.100"><text xml:space="preserve" x="0.00" y="0.00" font-size="12.80">100</text></g>
<g transform="translate(665.36 655.90) scale(1.4486 1.0000)" font-weight="normal" fill="#000" stroke="#000" stroke-width="0.098"><text xml:space="preserve" x="0.00" y="0.00" font-size="12.80">0</text></g>
<g transform="translate(422.60 672.60) scale(1.4435 1.0000)" font-weight="normal" fill="#000" stroke="#000" stroke-width="0.098"><text xml:space="preserve" x="0.00" y="0.00" font-size="15.60">Binding energy (eV)</text></g>
<g transform="translate(361.40 589.16) rotate(-90) scale(0.7947 1.0000)" font-weight="normal" fill="#000" stroke="#000" stroke-width="0.134"><text xml:space="preserve" x="0.00" y="0.00" font-size="21.80">Intensity (a.u)</text></g>
<g transform="translate(340.59 467.80) scale(1.4352 1.0000)" font-weight="normal" fill="#000" stroke="#000" stroke-width="0.099"><text xml:space="preserve" x="0.00" y="0.00" font-size="16.40">(f)</text></g>
<path d="M378.30 577.35 L379.70 591.36 L380.63 592.66 L381.57 593.13 L382.50 594.11 L383.40 594.07 L384.30 593.54 L385.20 593.75 L386.10 593.75 L387.00 593.79 L388.06 592.93 L389.12 592.98 L390.18 592.61 L391.24 593.17 L392.30 592.89 L393.26 592.11 L394.21 592.93 L395.17 592.78 L396.13 592.34 L397.09 592.17 L398.04 591.59 L399.00 591.32 L400.03 591.69 L401.06 591.07 L402.09 591.06 L403.11 590.97 L404.14 590.62 L405.17 590.91 L406.20 590.74 L407.16 591.28 L408.12 591.10 L409.08 591.36 L410.04 591.36 L411.00 591.66 L412.05 592.06 L413.10 592.48 L414.50 588.50 L415.50 578.50 L416.50 574.54 L417.90 573.51 L419.00 575.32 L419.80 584.73 L420.10 593.89 L421.02 593.90 L421.93 594.83 L422.85 594.70 L423.77 595.38 L424.68 595.15 L425.60 595.96 L426.70 595.60 L427.80 594.50 L428.90 594.46 L430.00 594.91 L431.30 587.97 L432.60 586.28 L433.80 588.90 L434.80 591.21 L435.80 594.40 L436.80 597.18 L437.84 596.99 L438.88 597.13 L439.92 597.69 L440.96 598.64 L442.00 598.76 L442.98 598.22 L443.97 598.45 L444.95 598.40 L445.93 598.46 L446.92 599.30 L447.90 598.78 L448.91 599.05 L449.93 598.82 L450.94 598.45 L451.96 598.87 L452.97 598.16 L453.99 598.56 L455.00 597.92 L456.00 598.12 L457.00 597.81 L458.00 597.77 L459.00 598.37 L460.00 598.10 L461.00 597.50 L461.90 598.03 L462.80 597.31 L463.70 597.44 L464.60 597.85 L465.90 596.84 L467.20 595.50 L468.20 597.66 L469.20 598.15 L470.20 599.46 L471.14 599.94 L472.07 599.45 L473.01 599.38 L473.95 599.12 L474.89 599.10 L475.82 599.56 L476.76 599.18 L477.70 599.50 L479.30 593.87 L480.30 587.15 L481.30 593.46 L481.70 601.18 L482.65 601.47 L483.60 601.97 L484.55 601.48 L485.50 601.65 L486.56 602.13 L487.62 601.76 L488.68 600.91 L489.74 600.57 L490.80 600.84 L491.86 601.32 L492.92 600.86 L493.98 601.89 L495.04 602.10 L496.10 602.10 L497.05 601.77 L498.01 601.29 L498.96 601.08 L499.92 601.84 L500.87 600.97 L501.83 601.28 L502.78 600.68 L503.74 601.09 L504.69 600.71 L505.65 600.25 L506.60 599.98 L507.53 600.36 L508.45 599.54 L509.38 599.54 L510.30 599.71 L511.23 599.84 L512.15 599.44 L513.08 598.94 L514.00 599.42 L514.94 598.43 L515.89 597.97 L516.83 597.95 L517.77 597.86 L518.71 597.20 L519.66 597.05 L520.60 596.97 L521.64 597.29 L522.68 596.97 L523.72 597.32 L524.76 597.97 L525.80 598.18 L526.70 599.59 L527.60 601.36 L528.50 602.98 L529.80 601.24 L531.10 599.84 L532.40 589.52 L533.20 565.41 L533.80 551.20 L535.20 551.46 L535.80 569.52 L536.40 603.94 L537.20 611.68 L538.30 612.16 L539.40 611.97 L540.50 612.87 L541.60 612.18 L542.67 612.08 L543.73 611.70 L544.80 611.30 L545.75 609.99 L546.70 608.80 L547.65 611.29 L548.60 613.82 L549.55 612.05 L550.50 611.19 L552.30 609.00 L553.40 612.17 L554.50 614.92 L555.75 616.04 L557.00 616.86 L558.00 616.91 L559.00 617.29 L560.00 617.38 L560.95 617.50 L561.90 617.44 L562.85 616.83 L563.80 617.31 L564.75 617.58 L565.70 617.38 L566.78 617.10 L567.85 616.64 L568.92 616.86 L570.00 616.58 L571.08 616.20 L572.16 616.36 L573.24 615.36 L574.32 615.79 L575.40 614.83 L576.35 615.55 L577.30 615.58 L578.25 615.48 L579.20 616.10 L580.15 616.05 L581.10 616.31 L582.05 616.77 L583.00 616.26 L583.95 616.08 L584.91 616.45 L585.86 616.90 L586.82 616.49 L587.77 616.53 L588.73 617.34 L589.68 617.17 L590.64 617.02 L591.59 617.55 L592.55 617.05 L593.50 617.47 L594.44 617.02 L595.39 617.28 L596.33 617.67 L597.28 617.80 L598.22 617.79 L599.17 617.32 L600.11 617.54 L601.06 617.29 L602.00 617.14 L602.91 617.53 L603.82 617.90 L604.73 617.95 L605.64 617.84 L606.56 618.12 L607.47 617.48 L608.38 617.40 L609.29 617.72 L610.20 617.58 L611.30 616.81 L612.40 616.31 L613.60 622.13 L614.68 622.27 L615.76 622.38 L616.84 623.18 L617.92 623.60 L619.00 623.35 L619.91 622.84 L620.82 622.67 L621.73 623.38 L622.64 622.42 L623.55 622.96 L624.46 622.69 L625.37 622.30 L626.28 622.65 L627.19 621.75 L628.10 621.74 L629.15 621.75 L630.20 621.02 L631.25 621.53 L632.30 620.64 L633.35 620.24 L634.40 619.85 L635.32 620.35 L636.23 620.08 L637.15 620.18 L638.07 620.12 L638.98 620.19 L639.90 620.26 L640.95 621.08 L642.00 621.70 L643.50 625.18 L644.60 619.18 L645.60 617.81 L647.10 618.47 L648.10 624.21 L648.90 629.48 L649.80 623.77 L650.70 620.55 L651.65 621.15 L652.60 621.22 L653.60 626.11 L654.30 631.86 L655.22 631.94 L656.15 632.79 L657.08 633.36 L658.00 632.99 L659.05 633.98 L660.10 633.92 L661.15 633.48 L662.20 633.95 L663.25 634.28 L664.30 634.71 L665.25 634.39 L666.20 634.80 L667.15 635.33 L668.10 635.46 L669.05 635.83 L670.00 635.60" fill="none" stroke="#000" stroke-width="2.50" stroke-linejoin="round" stroke-linecap="round"/>
<path d="M374.4 578 L374.6 540 L375.0 505 L375.6 488 L376.6 485.6 L377.8 486.5 L378.5 500 L378.6 560 L378.4 578 Z" fill="#000" stroke="#000" stroke-width="1.0"/>
<line x1="379.90" y1="472.60" x2="377.70" y2="484.70" stroke="#c8262c" stroke-width="1.3"/>
<line x1="419.50" y1="562.50" x2="419.50" y2="570.30" stroke="#c8262c" stroke-width="1.3"/>
<line x1="480.60" y1="574.30" x2="480.60" y2="582.20" stroke="#c8262c" stroke-width="1.3"/>
<line x1="535.60" y1="539.90" x2="535.60" y2="546.80" stroke="#c8262c" stroke-width="1.3"/>
<line x1="651.90" y1="608.90" x2="651.90" y2="616.40" stroke="#c8262c" stroke-width="1.3"/>
<g transform="translate(392.00 474.66) rotate(-90) scale(0.8854 1.0000)" font-weight="normal" fill="#000" stroke="#000" stroke-width="0.127"><text xml:space="preserve" x="0.00" y="0.00" font-size="12.07">I3d</text></g>
<g transform="translate(426.00 557.01) rotate(-90) scale(0.7782 1.0000)" font-weight="normal" fill="#000" stroke="#000" stroke-width="0.135"><text xml:space="preserve" x="0.00" y="0.00" font-size="14.57">O1s</text></g>
<g transform="translate(486.50 569.91) rotate(-90) scale(0.7608 1.0000)" font-weight="normal" fill="#000" stroke="#000" stroke-width="0.136"><text xml:space="preserve" x="0.00" y="0.00" font-size="15.00">N1s</text></g>
<g transform="translate(538.60 535.06) rotate(-90) scale(0.7133 1.0000)" font-weight="normal" fill="#000" stroke="#000" stroke-width="0.140"><text xml:space="preserve" x="0.00" y="0.00" font-size="15.71">C1s</text></g>
<g transform="translate(657.30 605.85) rotate(-90) scale(0.7690 1.0000)" font-weight="normal" fill="#000" stroke="#000" stroke-width="0.136"><text xml:space="preserve" x="0.00" y="0.00" font-size="14.29">W4f</text></g>
<g transform="translate(133.00 362.74) rotate(-90) scale(0.7292 1.0000)" font-weight="bold" fill="#000" stroke="#000" stroke-width="0.139"><text xml:space="preserve" x="0.00" y="0.00" font-size="11.71">C=N</text></g>
<g transform="translate(145.50 368.00) rotate(-90) scale(0.7286 1.0000)" font-weight="bold" fill="#000" stroke="#000" stroke-width="0.139"><text xml:space="preserve" x="0.00" y="0.00" font-size="11.71">287.8 eV</text></g>
<g transform="translate(165.40 353.15) rotate(-90) scale(0.8213 1.0000)" font-weight="bold" fill="#000" stroke="#000" stroke-width="0.132"><text xml:space="preserve" x="0.00" y="0.00" font-size="10.57">C-N</text></g>
<g transform="translate(178.00 357.50) rotate(-90) scale(0.7200 1.0000)" font-weight="bold" fill="#000" stroke="#000" stroke-width="0.140"><text xml:space="preserve" x="0.00" y="0.00" font-size="11.71">286.8 eV</text></g>
<g transform="translate(230.00 316.13) rotate(-90) scale(0.7907 1.0000)" font-weight="bold" fill="#000" stroke="#000" stroke-width="0.134"><text xml:space="preserve" x="0.00" y="0.00" font-size="10.57">C-C, C=C</text></g>
<g transform="translate(241.20 310.19) rotate(-90) scale(0.7445 1.0000)" font-weight="bold" fill="#000" stroke="#000" stroke-width="0.138"><text xml:space="preserve" x="0.00" y="0.00" font-size="11.29">285 eV</text></g>
<g transform="translate(388.00 322.19) rotate(-90) scale(0.8613 1.0000)" font-weight="normal" fill="#000" stroke="#000" stroke-width="0.300"><text xml:space="preserve" x="0.00" y="0.00" font-size="11.52">I 3d</text><text xml:space="preserve" x="19.22" y="3.46" font-size="9.22">3/2</text></g>
<g transform="translate(408.00 322.44) rotate(-90) scale(0.7372 1.0000)" font-weight="normal" fill="#000" stroke="#000" stroke-width="0.300"><text xml:space="preserve" x="0.00" y="0.00" font-size="12.00">632.6 eV</text></g>
<g transform="translate(425.40 275.26) rotate(-90) scale(0.7462 1.0000)" font-weight="normal" fill="#000" stroke="#000" stroke-width="0.300"><text xml:space="preserve" x="0.00" y="0.00" font-size="11.25">I</text><text xml:space="preserve" x="3.12" y="-5.62" font-size="7.31">−</text><text xml:space="preserve" x="7.39" y="0.00" font-size="11.25"> 3d</text><text xml:space="preserve" x="23.03" y="3.37" font-size="7.87">3/2</text></g>
<g transform="translate(443.80 274.92) rotate(-90) scale(0.6950 1.0000)" font-weight="normal" fill="#000" stroke="#000" stroke-width="0.300"><text xml:space="preserve" x="0.00" y="0.00" font-size="12.00">630.6 eV</text></g>
<g transform="translate(575.80 327.60) rotate(-90) scale(0.8924 1.0000)" font-weight="normal" fill="#000" stroke="#000" stroke-width="0.300"><text xml:space="preserve" x="0.00" y="0.00" font-size="11.25">I 3d</text><text xml:space="preserve" x="18.76" y="3.37" font-size="9.00">5/2</text></g>
<g transform="translate(596.00 327.13) rotate(-90) scale(0.7292 1.0000)" font-weight="normal" fill="#000" stroke="#000" stroke-width="0.300"><text xml:space="preserve" x="0.00" y="0.00" font-size="11.71">620.8 eV</text></g>
<g transform="translate(638.40 264.18) rotate(-90) scale(0.8989 1.0000)" font-weight="normal" fill="#000" stroke="#000" stroke-width="0.300"><text xml:space="preserve" x="0.00" y="0.00" font-size="10.84">I</text><text xml:space="preserve" x="3.01" y="-5.42" font-size="7.04">−</text><text xml:space="preserve" x="7.12" y="0.00" font-size="10.84"> 3d</text><text xml:space="preserve" x="22.19" y="3.25" font-size="7.59">5/2</text></g>
<g transform="translate(655.80 262.90) rotate(-90) scale(0.7422 1.0000)" font-weight="normal" fill="#000" stroke="#000" stroke-width="0.300"><text xml:space="preserve" x="0.00" y="0.00" font-size="10.86">619 eV</text></g>
<g transform="translate(132.50 557.60) rotate(-90) scale(0.9007 1.0000)" font-weight="bold" fill="#000" stroke="#000" stroke-width="0.126"><text xml:space="preserve" x="0.00" y="0.00" font-size="10.43">W 4f</text><text xml:space="preserve" x="22.01" y="2.61" font-size="8.34">5/2</text></g>
<g transform="translate(152.80 557.11) rotate(-90) scale(0.6470 1.0000)" font-weight="bold" fill="#000" stroke="#000" stroke-width="0.146"><text xml:space="preserve" x="0.00" y="0.00" font-size="13.00">38 eV</text></g>
<g transform="translate(237.50 528.90) rotate(-90) scale(0.8751 1.0000)" font-weight="bold" fill="#000" stroke="#000" stroke-width="0.128"><text xml:space="preserve" x="0.00" y="0.00" font-size="10.84">W 4f</text><text xml:space="preserve" x="22.87" y="2.71" font-size="8.67">7/2</text></g>
<g transform="translate(257.80 528.81) rotate(-90) scale(0.6755 1.0000)" font-weight="bold" fill="#000" stroke="#000" stroke-width="0.143"><text xml:space="preserve" x="0.00" y="0.00" font-size="12.57">35.8 eV</text></g>
</svg></body></html>
